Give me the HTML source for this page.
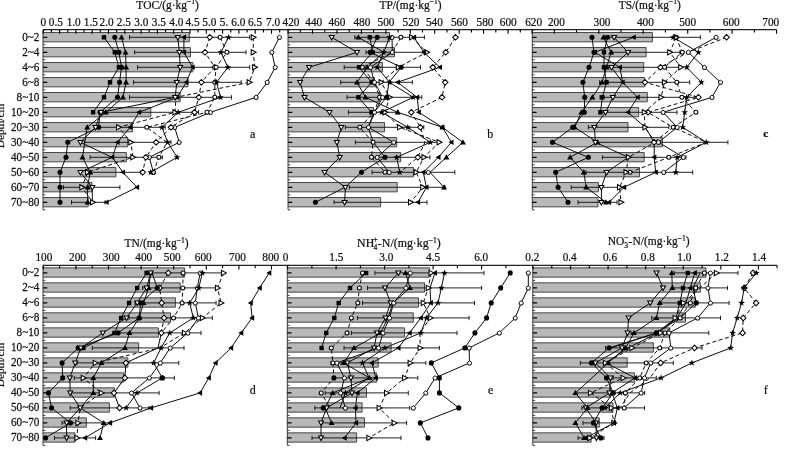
<!DOCTYPE html>
<html><head><meta charset="utf-8"><title>Figure</title>
<style>html,body{margin:0;padding:0;background:#fff}svg{display:block;will-change:transform;opacity:0.999}text{font-family:"Liberation Serif","Times New Roman",serif;fill:#111;stroke:#111;stroke-width:.22px}</style></head>
<body>
<svg width="800" height="457" viewBox="0 0 800 457">
<rect width="800" height="457" fill="#fff"/>
<path d="M43.0 32.53H189.3V41.83H43.0" fill="#b8b8b8" stroke="#383838" stroke-width="0.9"/>
<path d="M43.0 47.53H190.5V56.83H43.0" fill="#b8b8b8" stroke="#383838" stroke-width="0.9"/>
<path d="M43.0 62.53H192.9V71.83H43.0" fill="#b8b8b8" stroke="#383838" stroke-width="0.9"/>
<path d="M43.0 77.53H187.9V86.83H43.0" fill="#b8b8b8" stroke="#383838" stroke-width="0.9"/>
<path d="M43.0 92.53H180.2V101.83H43.0" fill="#b8b8b8" stroke="#383838" stroke-width="0.9"/>
<path d="M43.0 107.53H150.8V116.83H43.0" fill="#b8b8b8" stroke="#383838" stroke-width="0.9"/>
<path d="M43.0 122.53H132.6V131.83H43.0" fill="#b8b8b8" stroke="#383838" stroke-width="0.9"/>
<path d="M43.0 137.53H127.6V146.83H43.0" fill="#b8b8b8" stroke="#383838" stroke-width="0.9"/>
<path d="M43.0 152.53H126.4V161.83H43.0" fill="#b8b8b8" stroke="#383838" stroke-width="0.9"/>
<path d="M43.0 167.53H115.9V176.83H43.0" fill="#b8b8b8" stroke="#383838" stroke-width="0.9"/>
<path d="M43.0 182.53H92.0V191.83H43.0" fill="#b8b8b8" stroke="#383838" stroke-width="0.9"/>
<path d="M43.0 197.53H88.2V206.83H43.0" fill="#b8b8b8" stroke="#383838" stroke-width="0.9"/>
<path d="M129.5 37.3H249.7M129.5 35.1V39.4M249.7 35.1V39.4" stroke="#0a0a0a" stroke-width="0.9" fill="none"/>
<path d="M134.6 52.3H246.0M134.6 50.1V54.4M246.0 50.1V54.4" stroke="#0a0a0a" stroke-width="0.9" fill="none"/>
<path d="M137.6 67.3H249.7M137.6 65.1V69.5M249.7 65.1V69.5" stroke="#0a0a0a" stroke-width="0.9" fill="none"/>
<path d="M133.6 82.3H241.2M133.6 80.1V84.5M241.2 80.1V84.5" stroke="#0a0a0a" stroke-width="0.9" fill="none"/>
<path d="M129.5 97.3H231.5M129.5 95.1V99.5M231.5 95.1V99.5" stroke="#0a0a0a" stroke-width="0.9" fill="none"/>
<path d="M103.0 112.3H198.5M103.0 110.1V114.5M198.5 110.1V114.5" stroke="#0a0a0a" stroke-width="0.9" fill="none"/>
<path d="M100.0 127.3H165.2M100.0 125.1V129.4M165.2 125.1V129.4" stroke="#0a0a0a" stroke-width="0.9" fill="none"/>
<path d="M84.4 142.3H171.0M84.4 140.2V144.5M171.0 140.2V144.5" stroke="#0a0a0a" stroke-width="0.9" fill="none"/>
<path d="M90.1 157.3H162.3M90.1 155.2V159.5M162.3 155.2V159.5" stroke="#0a0a0a" stroke-width="0.9" fill="none"/>
<path d="M90.8 172.3H141.0M90.8 170.2V174.5M141.0 170.2V174.5" stroke="#0a0a0a" stroke-width="0.9" fill="none"/>
<path d="M63.5 187.3H119.9M63.5 185.2V189.5M119.9 185.2V189.5" stroke="#0a0a0a" stroke-width="0.9" fill="none"/>
<path d="M71.5 202.3H105.0M71.5 200.2V204.5M105.0 200.2V204.5" stroke="#0a0a0a" stroke-width="0.9" fill="none"/>
<polyline points="279.4,37.3 271.8,52.3 275.2,67.3 267.2,82.3 256.1,97.3 210.4,112.3 174.7,127.3 179.2,142.3 149.3,157.3 153.4,172.3" fill="none" stroke="#0c0c0c" stroke-width="1.0"/>
<polyline points="253.3,37.3 253.3,52.3 254.7,67.3 249.3,82.3 176.0,97.3 175.0,112.3 118.6,127.3 130.9,142.3 132.9,157.3 87.6,172.3 81.9,187.3 92.7,202.3" fill="none" stroke="#0c0c0c" stroke-width="1.0" stroke-dasharray="4 2.6"/>
<polyline points="209.8,37.3 205.0,52.3 214.8,67.3 201.4,82.3 198.8,97.3 194.5,112.3 171.0,127.3 156.2,142.3 145.8,157.3 142.7,172.3" fill="none" stroke="#0c0c0c" stroke-width="1.0" stroke-dasharray="4 2.6"/>
<polyline points="220.1,37.3 226.9,52.3 216.1,67.3 214.8,82.3 214.8,97.3 207.0,112.3 146.8,127.3 167.0,142.3 158.9,157.3 153.4,172.3" fill="none" stroke="#0c0c0c" stroke-width="1.0" stroke-dasharray="4 2.6"/>
<polyline points="104.0,37.3 114.8,52.3 118.9,67.3 110.0,82.3 104.0,97.3 93.1,112.3" fill="none" stroke="#0c0c0c" stroke-width="1.0"/>
<polyline points="114.8,37.3 118.9,52.3 121.5,67.3 119.5,82.3 117.5,97.3 100.0,112.3 98.6,127.3 67.8,142.3 66.0,157.3 60.0,172.3 60.0,187.3 60.0,202.3" fill="none" stroke="#0c0c0c" stroke-width="1.0"/>
<polyline points="121.5,37.3 125.5,52.3 126.1,67.3 126.1,82.3 122.9,97.3 105.8,112.3 87.2,127.3 84.8,142.3 82.5,157.3 90.1,172.3 87.6,187.3 87.6,202.3" fill="none" stroke="#0c0c0c" stroke-width="1.0"/>
<polyline points="183.9,37.3 183.9,52.3 192.5,67.3 186.3,82.3 177.2,97.3 139.0,112.3 130.1,127.3 117.5,142.3 112.3,157.3 122.9,172.3 137.0,187.3 106.6,202.3" fill="none" stroke="#0c0c0c" stroke-width="1.0"/>
<polyline points="177.8,37.3 179.4,52.3 180.2,67.3 176.8,82.3 175.2,97.3 101.0,112.3 95.6,127.3 80.4,142.3 112.0,157.3 80.4,172.3 92.3,187.3 92.3,202.3" fill="none" stroke="#0c0c0c" stroke-width="1.0"/>
<polyline points="228.5,37.3 220.9,52.3 227.9,67.3 216.5,82.3 220.5,97.3 178.3,112.3 162.0,127.3 167.7,142.3 177.1,157.3 150.6,172.3" fill="none" stroke="#0c0c0c" stroke-width="1.0"/>
<polygon points="279.4,35.1 281.6,36.7 280.8,39.3 278.0,39.3 277.2,36.7" fill="#fff" stroke="#000" stroke-width="0.95" stroke-linejoin="round"/>
<polygon points="271.8,50.1 274.0,51.7 273.2,54.3 270.4,54.3 269.6,51.7" fill="#fff" stroke="#000" stroke-width="0.95" stroke-linejoin="round"/>
<polygon points="275.2,65.2 277.4,66.7 276.6,69.3 273.8,69.3 273.0,66.7" fill="#fff" stroke="#000" stroke-width="0.95" stroke-linejoin="round"/>
<polygon points="267.2,80.2 269.4,81.7 268.6,84.3 265.8,84.3 265.0,81.7" fill="#fff" stroke="#000" stroke-width="0.95" stroke-linejoin="round"/>
<polygon points="256.1,95.2 258.3,96.7 257.5,99.3 254.7,99.3 253.9,96.7" fill="#fff" stroke="#000" stroke-width="0.95" stroke-linejoin="round"/>
<polygon points="210.4,110.2 212.6,111.7 211.8,114.3 209.0,114.3 208.2,111.7" fill="#fff" stroke="#000" stroke-width="0.95" stroke-linejoin="round"/>
<polygon points="174.7,125.2 176.9,126.7 176.1,129.3 173.3,129.3 172.5,126.7" fill="#fff" stroke="#000" stroke-width="0.95" stroke-linejoin="round"/>
<polygon points="179.2,140.2 181.4,141.7 180.6,144.3 177.8,144.3 177.0,141.7" fill="#fff" stroke="#000" stroke-width="0.95" stroke-linejoin="round"/>
<polygon points="149.3,155.2 151.5,156.7 150.7,159.3 147.9,159.3 147.1,156.7" fill="#fff" stroke="#000" stroke-width="0.95" stroke-linejoin="round"/>
<polygon points="153.4,170.2 155.6,171.7 154.8,174.3 152.0,174.3 151.2,171.7" fill="#fff" stroke="#000" stroke-width="0.95" stroke-linejoin="round"/>
<polygon points="256.1,37.3 251.2,34.7 251.2,39.9" fill="#fff" stroke="#000" stroke-width="1.05" stroke-linejoin="miter"/>
<polygon points="256.1,52.3 251.2,49.7 251.2,54.9" fill="#fff" stroke="#000" stroke-width="1.05" stroke-linejoin="miter"/>
<polygon points="257.5,67.3 252.6,64.7 252.6,69.9" fill="#fff" stroke="#000" stroke-width="1.05" stroke-linejoin="miter"/>
<polygon points="252.1,82.3 247.2,79.7 247.2,84.9" fill="#fff" stroke="#000" stroke-width="1.05" stroke-linejoin="miter"/>
<polygon points="177.8,112.3 172.9,109.7 172.9,114.9" fill="#fff" stroke="#000" stroke-width="1.05" stroke-linejoin="miter"/>
<polygon points="121.4,127.3 116.5,124.7 116.5,129.9" fill="#fff" stroke="#000" stroke-width="1.05" stroke-linejoin="miter"/>
<polygon points="133.7,142.3 128.8,139.7 128.8,144.9" fill="#fff" stroke="#000" stroke-width="1.05" stroke-linejoin="miter"/>
<polygon points="135.7,157.3 130.8,154.7 130.8,159.9" fill="#fff" stroke="#000" stroke-width="1.05" stroke-linejoin="miter"/>
<polygon points="90.4,172.3 85.5,169.7 85.5,174.9" fill="#fff" stroke="#000" stroke-width="1.05" stroke-linejoin="miter"/>
<polygon points="84.7,187.3 79.8,184.7 79.8,189.9" fill="#fff" stroke="#000" stroke-width="1.05" stroke-linejoin="miter"/>
<polygon points="95.5,202.3 90.6,199.7 90.6,204.9" fill="#fff" stroke="#000" stroke-width="1.05" stroke-linejoin="miter"/>
<polygon points="209.8,34.5 212.6,37.3 209.8,40.1 207.0,37.3" fill="#fff" stroke="#000" stroke-width="1.05" stroke-linejoin="miter"/>
<polygon points="205.0,49.5 207.8,52.3 205.0,55.1 202.2,52.3" fill="#fff" stroke="#000" stroke-width="1.05" stroke-linejoin="miter"/>
<polygon points="214.8,64.5 217.6,67.3 214.8,70.1 212.0,67.3" fill="#fff" stroke="#000" stroke-width="1.05" stroke-linejoin="miter"/>
<polygon points="201.4,79.5 204.2,82.3 201.4,85.1 198.6,82.3" fill="#fff" stroke="#000" stroke-width="1.05" stroke-linejoin="miter"/>
<polygon points="198.8,94.5 201.6,97.3 198.8,100.1 196.0,97.3" fill="#fff" stroke="#000" stroke-width="1.05" stroke-linejoin="miter"/>
<polygon points="194.5,109.5 197.3,112.3 194.5,115.1 191.7,112.3" fill="#fff" stroke="#000" stroke-width="1.05" stroke-linejoin="miter"/>
<polygon points="171.0,124.5 173.8,127.3 171.0,130.1 168.2,127.3" fill="#fff" stroke="#000" stroke-width="1.05" stroke-linejoin="miter"/>
<polygon points="156.2,139.5 159.0,142.3 156.2,145.1 153.4,142.3" fill="#fff" stroke="#000" stroke-width="1.05" stroke-linejoin="miter"/>
<polygon points="145.8,154.5 148.6,157.3 145.8,160.1 143.0,157.3" fill="#fff" stroke="#000" stroke-width="1.05" stroke-linejoin="miter"/>
<polygon points="142.7,169.5 145.5,172.3 142.7,175.1 139.9,172.3" fill="#fff" stroke="#000" stroke-width="1.05" stroke-linejoin="miter"/>
<circle cx="220.1" cy="37.3" r="2.0" fill="#fff" stroke="#000" stroke-width="1.05"/>
<circle cx="226.9" cy="52.3" r="2.0" fill="#fff" stroke="#000" stroke-width="1.05"/>
<circle cx="216.1" cy="67.3" r="2.0" fill="#fff" stroke="#000" stroke-width="1.05"/>
<circle cx="214.8" cy="82.3" r="2.0" fill="#fff" stroke="#000" stroke-width="1.05"/>
<circle cx="214.8" cy="97.3" r="2.0" fill="#fff" stroke="#000" stroke-width="1.05"/>
<circle cx="207.0" cy="112.3" r="2.0" fill="#fff" stroke="#000" stroke-width="1.05"/>
<circle cx="146.8" cy="127.3" r="2.0" fill="#fff" stroke="#000" stroke-width="1.05"/>
<circle cx="158.9" cy="157.3" r="2.0" fill="#fff" stroke="#000" stroke-width="1.05"/>
<circle cx="153.4" cy="172.3" r="2.0" fill="#fff" stroke="#000" stroke-width="1.05"/>
<rect x="101.8" y="35.1" width="4.4" height="4.4" fill="#000"/>
<rect x="112.6" y="50.1" width="4.4" height="4.4" fill="#000"/>
<rect x="116.7" y="65.1" width="4.4" height="4.4" fill="#000"/>
<rect x="107.8" y="80.1" width="4.4" height="4.4" fill="#000"/>
<rect x="101.8" y="95.1" width="4.4" height="4.4" fill="#000"/>
<rect x="90.9" y="110.1" width="4.4" height="4.4" fill="#000"/>
<circle cx="114.8" cy="37.3" r="2.55" fill="#000"/>
<circle cx="118.9" cy="52.3" r="2.55" fill="#000"/>
<circle cx="121.5" cy="67.3" r="2.55" fill="#000"/>
<circle cx="119.5" cy="82.3" r="2.55" fill="#000"/>
<circle cx="117.5" cy="97.3" r="2.55" fill="#000"/>
<circle cx="100.0" cy="112.3" r="2.55" fill="#000"/>
<circle cx="98.6" cy="127.3" r="2.55" fill="#000"/>
<circle cx="67.8" cy="142.3" r="2.55" fill="#000"/>
<circle cx="66.0" cy="157.3" r="2.55" fill="#000"/>
<circle cx="60.0" cy="172.3" r="2.55" fill="#000"/>
<circle cx="60.0" cy="187.3" r="2.55" fill="#000"/>
<circle cx="60.0" cy="202.3" r="2.55" fill="#000"/>
<polygon points="121.5,34.3 118.5,39.5 124.5,39.5" fill="#000"/>
<polygon points="125.5,49.3 122.5,54.5 128.5,54.5" fill="#000"/>
<polygon points="126.1,64.3 123.1,69.5 129.1,69.5" fill="#000"/>
<polygon points="126.1,79.3 123.1,84.5 129.1,84.5" fill="#000"/>
<polygon points="122.9,94.3 119.9,99.5 125.9,99.5" fill="#000"/>
<polygon points="105.8,109.3 102.8,114.5 108.8,114.5" fill="#000"/>
<polygon points="87.2,124.3 84.2,129.5 90.2,129.5" fill="#000"/>
<polygon points="82.5,154.3 79.5,159.5 85.5,159.5" fill="#000"/>
<polygon points="90.1,169.3 87.1,174.5 93.1,174.5" fill="#000"/>
<polygon points="87.6,184.3 84.6,189.5 90.6,189.5" fill="#000"/>
<polygon points="87.6,199.3 84.6,204.5 90.6,204.5" fill="#000"/>
<polygon points="181.0,37.3 186.0,34.5 186.0,40.1" fill="#000"/>
<polygon points="181.0,52.3 186.0,49.5 186.0,55.1" fill="#000"/>
<polygon points="189.6,67.3 194.6,64.5 194.6,70.1" fill="#000"/>
<polygon points="183.4,82.3 188.4,79.5 188.4,85.1" fill="#000"/>
<polygon points="174.3,97.3 179.3,94.5 179.3,100.1" fill="#000"/>
<polygon points="136.1,112.3 141.1,109.5 141.1,115.1" fill="#000"/>
<polygon points="127.2,127.3 132.2,124.5 132.2,130.1" fill="#000"/>
<polygon points="114.6,142.3 119.6,139.5 119.6,145.1" fill="#000"/>
<polygon points="109.4,157.3 114.4,154.5 114.4,160.1" fill="#000"/>
<polygon points="120.0,172.3 125.0,169.5 125.0,175.1" fill="#000"/>
<polygon points="134.1,187.3 139.1,184.5 139.1,190.1" fill="#000"/>
<polygon points="103.7,202.3 108.7,199.5 108.7,205.1" fill="#000"/>
<polygon points="177.8,40.0 175.3,35.4 180.3,35.4" fill="#fff" stroke="#000" stroke-width="1.05" stroke-linejoin="miter"/>
<polygon points="179.4,55.0 176.9,50.4 181.9,50.4" fill="#fff" stroke="#000" stroke-width="1.05" stroke-linejoin="miter"/>
<polygon points="180.2,70.0 177.7,65.4 182.7,65.4" fill="#fff" stroke="#000" stroke-width="1.05" stroke-linejoin="miter"/>
<polygon points="176.8,85.0 174.3,80.4 179.3,80.4" fill="#fff" stroke="#000" stroke-width="1.05" stroke-linejoin="miter"/>
<polygon points="175.2,100.0 172.7,95.4 177.7,95.4" fill="#fff" stroke="#000" stroke-width="1.05" stroke-linejoin="miter"/>
<polygon points="101.0,115.0 98.5,110.4 103.5,110.4" fill="#fff" stroke="#000" stroke-width="1.05" stroke-linejoin="miter"/>
<polygon points="95.6,130.0 93.1,125.4 98.1,125.4" fill="#fff" stroke="#000" stroke-width="1.05" stroke-linejoin="miter"/>
<polygon points="80.4,145.0 77.9,140.4 82.9,140.4" fill="#fff" stroke="#000" stroke-width="1.05" stroke-linejoin="miter"/>
<polygon points="80.4,175.0 77.9,170.4 82.9,170.4" fill="#fff" stroke="#000" stroke-width="1.05" stroke-linejoin="miter"/>
<polygon points="92.3,190.0 89.8,185.4 94.8,185.4" fill="#fff" stroke="#000" stroke-width="1.05" stroke-linejoin="miter"/>
<polygon points="228.5,33.8 229.3,36.2 231.9,36.2 229.8,37.7 230.6,40.2 228.5,38.7 226.4,40.2 227.2,37.7 225.1,36.2 227.7,36.2" fill="#000"/>
<polygon points="220.9,48.8 221.7,51.2 224.3,51.2 222.2,52.7 223.0,55.2 220.9,53.7 218.8,55.2 219.6,52.7 217.5,51.2 220.1,51.2" fill="#000"/>
<polygon points="227.9,63.8 228.7,66.2 231.3,66.2 229.2,67.7 230.0,70.2 227.9,68.7 225.8,70.2 226.6,67.7 224.5,66.2 227.1,66.2" fill="#000"/>
<polygon points="216.5,78.8 217.3,81.2 219.9,81.2 217.8,82.7 218.6,85.2 216.5,83.7 214.4,85.2 215.2,82.7 213.1,81.2 215.7,81.2" fill="#000"/>
<polygon points="220.5,93.8 221.3,96.2 223.9,96.2 221.8,97.7 222.6,100.2 220.5,98.7 218.4,100.2 219.2,97.7 217.1,96.2 219.7,96.2" fill="#000"/>
<polygon points="178.3,108.8 179.1,111.2 181.7,111.2 179.6,112.7 180.4,115.2 178.3,113.7 176.2,115.2 177.0,112.7 174.9,111.2 177.5,111.2" fill="#000"/>
<polygon points="162.0,123.8 162.8,126.2 165.4,126.2 163.3,127.7 164.1,130.2 162.0,128.7 159.9,130.2 160.7,127.7 158.6,126.2 161.2,126.2" fill="#000"/>
<polygon points="167.7,138.8 168.5,141.2 171.1,141.2 169.0,142.7 169.8,145.2 167.7,143.7 165.6,145.2 166.4,142.7 164.3,141.2 166.9,141.2" fill="#000"/>
<polygon points="177.1,153.8 177.9,156.2 180.5,156.2 178.4,157.7 179.2,160.2 177.1,158.7 175.0,160.2 175.8,157.7 173.7,156.2 176.3,156.2" fill="#000"/>
<polygon points="150.6,168.8 151.4,171.2 154.0,171.2 151.9,172.7 152.7,175.2 150.6,173.7 148.5,175.2 149.3,172.7 147.2,171.2 149.8,171.2" fill="#000"/>
<path d="M43.0 29.7V209.5M43.0 29.8h2.3M43.0 44.8h2.3M43.0 59.8h2.3M43.0 74.8h2.3M43.0 89.8h2.3M43.0 104.8h2.3M43.0 119.8h2.3M43.0 134.8h2.3M43.0 149.8h2.3M43.0 164.8h2.3M43.0 179.8h2.3M43.0 194.8h2.3M43.0 209.8h2.3" stroke="#2e2e2e" stroke-width="0.95" fill="none"/>
<path d="M43.0 37.3h4.3M43.0 52.3h4.3M43.0 67.3h4.3M43.0 82.3h4.3M43.0 97.3h4.3M43.0 112.3h4.3M43.0 127.3h4.3M43.0 142.3h4.3M43.0 157.3h4.3M43.0 172.3h4.3M43.0 187.3h4.3M43.0 202.3h4.3" stroke="#000" stroke-width="1.35" fill="none"/>
<path d="M288.0 32.53H389.6V41.83H288.0" fill="#b8b8b8" stroke="#383838" stroke-width="0.9"/>
<path d="M288.0 47.53H394.5V56.83H288.0" fill="#b8b8b8" stroke="#383838" stroke-width="0.9"/>
<path d="M288.0 62.53H382.4V71.83H288.0" fill="#b8b8b8" stroke="#383838" stroke-width="0.9"/>
<path d="M288.0 77.53H374.5V86.83H288.0" fill="#b8b8b8" stroke="#383838" stroke-width="0.9"/>
<path d="M288.0 92.53H379.6V101.83H288.0" fill="#b8b8b8" stroke="#383838" stroke-width="0.9"/>
<path d="M288.0 107.53H373.5V116.83H288.0" fill="#b8b8b8" stroke="#383838" stroke-width="0.9"/>
<path d="M288.0 122.53H384.6V131.83H288.0" fill="#b8b8b8" stroke="#383838" stroke-width="0.9"/>
<path d="M288.0 137.53H396.7V146.83H288.0" fill="#b8b8b8" stroke="#383838" stroke-width="0.9"/>
<path d="M288.0 152.53H400.7V161.83H288.0" fill="#b8b8b8" stroke="#383838" stroke-width="0.9"/>
<path d="M288.0 167.53H413.4V176.83H288.0" fill="#b8b8b8" stroke="#383838" stroke-width="0.9"/>
<path d="M288.0 182.53H397.2V191.83H288.0" fill="#b8b8b8" stroke="#383838" stroke-width="0.9"/>
<path d="M288.0 197.53H380.6V206.83H288.0" fill="#b8b8b8" stroke="#383838" stroke-width="0.9"/>
<path d="M354.8 37.3H424.4M354.8 35.1V39.4M424.4 35.1V39.4" stroke="#0a0a0a" stroke-width="0.9" fill="none"/>
<path d="M366.0 52.3H423.2M366.0 50.1V54.4M423.2 50.1V54.4" stroke="#0a0a0a" stroke-width="0.9" fill="none"/>
<path d="M344.2 67.3H420.5M344.2 65.1V69.5M420.5 65.1V69.5" stroke="#0a0a0a" stroke-width="0.9" fill="none"/>
<path d="M340.7 82.3H412.4M340.7 80.1V84.5M412.4 80.1V84.5" stroke="#0a0a0a" stroke-width="0.9" fill="none"/>
<path d="M347.0 97.3H421.8M347.0 95.1V99.5M421.8 95.1V99.5" stroke="#0a0a0a" stroke-width="0.9" fill="none"/>
<path d="M348.4 112.3H398.6M348.4 110.1V114.5M398.6 110.1V114.5" stroke="#0a0a0a" stroke-width="0.9" fill="none"/>
<path d="M345.4 127.3H423.8M345.4 125.1V129.4M423.8 125.1V129.4" stroke="#0a0a0a" stroke-width="0.9" fill="none"/>
<path d="M355.4 142.3H438.0M355.4 140.2V144.5M438.0 140.2V144.5" stroke="#0a0a0a" stroke-width="0.9" fill="none"/>
<path d="M371.5 157.3H429.9M371.5 155.2V159.5M429.9 155.2V159.5" stroke="#0a0a0a" stroke-width="0.9" fill="none"/>
<path d="M372.1 172.3H454.8M372.1 170.2V174.5M454.8 170.2V174.5" stroke="#0a0a0a" stroke-width="0.9" fill="none"/>
<path d="M349.4 187.3H445.0M349.4 185.2V189.5M445.0 185.2V189.5" stroke="#0a0a0a" stroke-width="0.9" fill="none"/>
<path d="M334.0 202.3H427.0M334.0 200.2V204.5M427.0 200.2V204.5" stroke="#0a0a0a" stroke-width="0.9" fill="none"/>
<polyline points="331.7,37.3 357.0,52.3 309.1,67.3 300.1,82.3 304.5,97.3 329.5,112.3 341.3,127.3 336.9,142.3 339.7,157.3 324.6,172.3 345.4,187.3 344.6,202.3" fill="none" stroke="#0c0c0c" stroke-width="1.0"/>
<polyline points="455.5,37.3 445.7,52.3 432.8,67.3 445.2,82.3 442.0,97.3 411.3,112.3 420.4,127.3 425.0,142.3 417.8,157.3 400.0,172.3" fill="none" stroke="#0c0c0c" stroke-width="1.0" stroke-dasharray="4 2.6"/>
<polyline points="411.7,37.3 426.8,52.3 398.4,67.3 381.2,82.3 389.6,97.3 385.0,112.3 399.6,127.3 439.2,142.3 424.0,157.3 416.2,172.3 422.8,187.3 410.6,202.3" fill="none" stroke="#0c0c0c" stroke-width="1.0" stroke-dasharray="4 2.6"/>
<polyline points="400.9,37.3 392.3,52.3 362.2,67.3 374.5,82.3 379.6,97.3 374.0,112.3 359.8,127.3 373.1,142.3 371.5,157.3 385.0,172.3" fill="none" stroke="#0c0c0c" stroke-width="1.0" stroke-dasharray="4 2.6"/>
<polyline points="369.8,37.3 372.7,52.3 359.0,67.3 371.7,82.3 358.4,97.3 371.5,112.3" fill="none" stroke="#0c0c0c" stroke-width="1.0"/>
<polyline points="377.2,37.3 370.2,52.3 401.2,67.3 389.0,82.3 386.6,97.3 374.0,112.3 368.2,127.3 373.3,142.3 385.0,157.3 361.5,172.3 345.0,187.3 315.4,202.3" fill="none" stroke="#0c0c0c" stroke-width="1.0"/>
<polyline points="358.4,37.3 383.8,52.3 367.3,67.3 357.0,82.3 365.5,97.3 397.7,112.3 442.4,127.3 462.9,142.3 446.4,157.3 430.0,172.3 444.0,187.3" fill="none" stroke="#0c0c0c" stroke-width="1.0"/>
<polyline points="414.0,37.3 423.8,52.3 439.9,67.3 397.7,82.3 417.2,97.3 418.8,112.3 442.4,127.3 451.4,142.3 438.4,157.3 423.3,172.3 426.4,187.3 418.0,202.3" fill="none" stroke="#0c0c0c" stroke-width="1.0"/>
<polyline points="392.0,37.3 392.3,52.3 370.5,67.3 374.5,82.3 382.6,97.3 374.5,112.3 368.5,127.3 393.7,142.3 377.2,157.3 389.2,172.3" fill="none" stroke="#0c0c0c" stroke-width="1.0"/>
<polyline points="389.5,37.3 383.8,52.3 377.2,67.3 389.5,82.3 413.2,97.3 381.6,112.3 407.8,127.3 430.3,142.3 396.7,157.3 399.7,172.3" fill="none" stroke="#0c0c0c" stroke-width="1.0"/>
<polygon points="331.7,40.0 329.2,35.4 334.2,35.4" fill="#fff" stroke="#000" stroke-width="1.05" stroke-linejoin="miter"/>
<polygon points="357.0,55.0 354.5,50.4 359.5,50.4" fill="#fff" stroke="#000" stroke-width="1.05" stroke-linejoin="miter"/>
<polygon points="309.1,70.0 306.6,65.4 311.6,65.4" fill="#fff" stroke="#000" stroke-width="1.05" stroke-linejoin="miter"/>
<polygon points="300.1,85.0 297.6,80.4 302.6,80.4" fill="#fff" stroke="#000" stroke-width="1.05" stroke-linejoin="miter"/>
<polygon points="304.5,100.0 302.0,95.4 307.0,95.4" fill="#fff" stroke="#000" stroke-width="1.05" stroke-linejoin="miter"/>
<polygon points="329.5,115.0 327.0,110.4 332.0,110.4" fill="#fff" stroke="#000" stroke-width="1.05" stroke-linejoin="miter"/>
<polygon points="341.3,130.0 338.8,125.4 343.8,125.4" fill="#fff" stroke="#000" stroke-width="1.05" stroke-linejoin="miter"/>
<polygon points="336.9,145.0 334.4,140.4 339.4,140.4" fill="#fff" stroke="#000" stroke-width="1.05" stroke-linejoin="miter"/>
<polygon points="339.7,160.0 337.2,155.4 342.2,155.4" fill="#fff" stroke="#000" stroke-width="1.05" stroke-linejoin="miter"/>
<polygon points="324.6,175.0 322.1,170.4 327.1,170.4" fill="#fff" stroke="#000" stroke-width="1.05" stroke-linejoin="miter"/>
<polygon points="345.4,190.0 342.9,185.4 347.9,185.4" fill="#fff" stroke="#000" stroke-width="1.05" stroke-linejoin="miter"/>
<polygon points="344.6,205.0 342.1,200.4 347.1,200.4" fill="#fff" stroke="#000" stroke-width="1.05" stroke-linejoin="miter"/>
<polygon points="455.5,34.5 458.3,37.3 455.5,40.1 452.7,37.3" fill="#fff" stroke="#000" stroke-width="1.05" stroke-linejoin="miter"/>
<polygon points="445.7,49.5 448.5,52.3 445.7,55.1 442.9,52.3" fill="#fff" stroke="#000" stroke-width="1.05" stroke-linejoin="miter"/>
<polygon points="432.8,64.5 435.6,67.3 432.8,70.1 430.0,67.3" fill="#fff" stroke="#000" stroke-width="1.05" stroke-linejoin="miter"/>
<polygon points="445.2,79.5 448.0,82.3 445.2,85.1 442.4,82.3" fill="#fff" stroke="#000" stroke-width="1.05" stroke-linejoin="miter"/>
<polygon points="442.0,94.5 444.8,97.3 442.0,100.1 439.2,97.3" fill="#fff" stroke="#000" stroke-width="1.05" stroke-linejoin="miter"/>
<polygon points="411.3,109.5 414.1,112.3 411.3,115.1 408.5,112.3" fill="#fff" stroke="#000" stroke-width="1.05" stroke-linejoin="miter"/>
<polygon points="420.4,124.5 423.2,127.3 420.4,130.1 417.6,127.3" fill="#fff" stroke="#000" stroke-width="1.05" stroke-linejoin="miter"/>
<polygon points="417.8,154.5 420.6,157.3 417.8,160.1 415.0,157.3" fill="#fff" stroke="#000" stroke-width="1.05" stroke-linejoin="miter"/>
<polygon points="414.5,37.3 409.6,34.7 409.6,39.9" fill="#fff" stroke="#000" stroke-width="1.05" stroke-linejoin="miter"/>
<polygon points="429.6,52.3 424.7,49.7 424.7,54.9" fill="#fff" stroke="#000" stroke-width="1.05" stroke-linejoin="miter"/>
<polygon points="401.2,67.3 396.3,64.7 396.3,69.9" fill="#fff" stroke="#000" stroke-width="1.05" stroke-linejoin="miter"/>
<polygon points="384.0,82.3 379.1,79.7 379.1,84.9" fill="#fff" stroke="#000" stroke-width="1.05" stroke-linejoin="miter"/>
<polygon points="392.4,97.3 387.5,94.7 387.5,99.9" fill="#fff" stroke="#000" stroke-width="1.05" stroke-linejoin="miter"/>
<polygon points="387.8,112.3 382.9,109.7 382.9,114.9" fill="#fff" stroke="#000" stroke-width="1.05" stroke-linejoin="miter"/>
<polygon points="402.4,127.3 397.5,124.7 397.5,129.9" fill="#fff" stroke="#000" stroke-width="1.05" stroke-linejoin="miter"/>
<polygon points="442.0,142.3 437.1,139.7 437.1,144.9" fill="#fff" stroke="#000" stroke-width="1.05" stroke-linejoin="miter"/>
<polygon points="426.8,157.3 421.9,154.7 421.9,159.9" fill="#fff" stroke="#000" stroke-width="1.05" stroke-linejoin="miter"/>
<polygon points="419.0,172.3 414.1,169.7 414.1,174.9" fill="#fff" stroke="#000" stroke-width="1.05" stroke-linejoin="miter"/>
<polygon points="425.6,187.3 420.7,184.7 420.7,189.9" fill="#fff" stroke="#000" stroke-width="1.05" stroke-linejoin="miter"/>
<polygon points="413.4,202.3 408.5,199.7 408.5,204.9" fill="#fff" stroke="#000" stroke-width="1.05" stroke-linejoin="miter"/>
<circle cx="400.9" cy="37.3" r="2.0" fill="#fff" stroke="#000" stroke-width="1.05"/>
<circle cx="362.2" cy="67.3" r="2.0" fill="#fff" stroke="#000" stroke-width="1.05"/>
<circle cx="379.6" cy="97.3" r="2.0" fill="#fff" stroke="#000" stroke-width="1.05"/>
<circle cx="359.8" cy="127.3" r="2.0" fill="#fff" stroke="#000" stroke-width="1.05"/>
<circle cx="373.1" cy="142.3" r="2.0" fill="#fff" stroke="#000" stroke-width="1.05"/>
<circle cx="371.5" cy="157.3" r="2.0" fill="#fff" stroke="#000" stroke-width="1.05"/>
<circle cx="385.0" cy="172.3" r="2.0" fill="#fff" stroke="#000" stroke-width="1.05"/>
<rect x="367.6" y="35.1" width="4.4" height="4.4" fill="#000"/>
<rect x="370.5" y="50.1" width="4.4" height="4.4" fill="#000"/>
<rect x="356.8" y="65.1" width="4.4" height="4.4" fill="#000"/>
<rect x="369.5" y="80.1" width="4.4" height="4.4" fill="#000"/>
<rect x="356.2" y="95.1" width="4.4" height="4.4" fill="#000"/>
<rect x="369.3" y="110.1" width="4.4" height="4.4" fill="#000"/>
<circle cx="377.2" cy="37.3" r="2.55" fill="#000"/>
<circle cx="370.2" cy="52.3" r="2.55" fill="#000"/>
<circle cx="401.2" cy="67.3" r="2.55" fill="#000"/>
<circle cx="386.6" cy="97.3" r="2.55" fill="#000"/>
<circle cx="385.0" cy="157.3" r="2.55" fill="#000"/>
<circle cx="361.5" cy="172.3" r="2.55" fill="#000"/>
<circle cx="315.4" cy="202.3" r="2.55" fill="#000"/>
<polygon points="358.4,34.3 355.4,39.5 361.4,39.5" fill="#000"/>
<polygon points="367.3,64.3 364.3,69.5 370.3,69.5" fill="#000"/>
<polygon points="357.0,79.3 354.0,84.5 360.0,84.5" fill="#000"/>
<polygon points="365.5,94.3 362.5,99.5 368.5,99.5" fill="#000"/>
<polygon points="397.7,109.3 394.7,114.5 400.7,114.5" fill="#000"/>
<polygon points="442.4,124.3 439.4,129.5 445.4,129.5" fill="#000"/>
<polygon points="462.9,139.3 459.9,144.5 465.9,144.5" fill="#000"/>
<polygon points="446.4,154.3 443.4,159.5 449.4,159.5" fill="#000"/>
<polygon points="444.0,184.3 441.0,189.5 447.0,189.5" fill="#000"/>
<polygon points="411.1,37.3 416.1,34.5 416.1,40.1" fill="#000"/>
<polygon points="420.9,52.3 425.9,49.5 425.9,55.1" fill="#000"/>
<polygon points="437.0,67.3 442.0,64.5 442.0,70.1" fill="#000"/>
<polygon points="394.8,82.3 399.8,79.5 399.8,85.1" fill="#000"/>
<polygon points="414.3,97.3 419.3,94.5 419.3,100.1" fill="#000"/>
<polygon points="415.9,112.3 420.9,109.5 420.9,115.1" fill="#000"/>
<polygon points="439.5,127.3 444.5,124.5 444.5,130.1" fill="#000"/>
<polygon points="448.5,142.3 453.5,139.5 453.5,145.1" fill="#000"/>
<polygon points="435.5,157.3 440.5,154.5 440.5,160.1" fill="#000"/>
<polygon points="420.4,172.3 425.4,169.5 425.4,175.1" fill="#000"/>
<polygon points="423.5,187.3 428.5,184.5 428.5,190.1" fill="#000"/>
<polygon points="415.1,202.3 420.1,199.5 420.1,205.1" fill="#000"/>
<polygon points="392.0,35.1 394.2,36.7 393.4,39.3 390.6,39.3 389.8,36.7" fill="#fff" stroke="#000" stroke-width="0.95" stroke-linejoin="round"/>
<polygon points="392.3,50.1 394.5,51.7 393.7,54.3 390.9,54.3 390.1,51.7" fill="#fff" stroke="#000" stroke-width="0.95" stroke-linejoin="round"/>
<polygon points="370.5,65.2 372.7,66.7 371.9,69.3 369.1,69.3 368.3,66.7" fill="#fff" stroke="#000" stroke-width="0.95" stroke-linejoin="round"/>
<polygon points="374.5,80.2 376.7,81.7 375.9,84.3 373.1,84.3 372.3,81.7" fill="#fff" stroke="#000" stroke-width="0.95" stroke-linejoin="round"/>
<polygon points="382.6,95.2 384.8,96.7 384.0,99.3 381.2,99.3 380.4,96.7" fill="#fff" stroke="#000" stroke-width="0.95" stroke-linejoin="round"/>
<polygon points="374.5,110.2 376.7,111.7 375.9,114.3 373.1,114.3 372.3,111.7" fill="#fff" stroke="#000" stroke-width="0.95" stroke-linejoin="round"/>
<polygon points="368.5,125.2 370.7,126.7 369.9,129.3 367.1,129.3 366.3,126.7" fill="#fff" stroke="#000" stroke-width="0.95" stroke-linejoin="round"/>
<polygon points="393.7,140.2 395.9,141.7 395.1,144.3 392.3,144.3 391.5,141.7" fill="#fff" stroke="#000" stroke-width="0.95" stroke-linejoin="round"/>
<polygon points="377.2,155.2 379.4,156.7 378.6,159.3 375.8,159.3 375.0,156.7" fill="#fff" stroke="#000" stroke-width="0.95" stroke-linejoin="round"/>
<polygon points="389.2,170.2 391.4,171.7 390.6,174.3 387.8,174.3 387.0,171.7" fill="#fff" stroke="#000" stroke-width="0.95" stroke-linejoin="round"/>
<polygon points="389.5,33.8 390.3,36.2 392.9,36.2 390.8,37.7 391.6,40.2 389.5,38.7 387.4,40.2 388.2,37.7 386.1,36.2 388.7,36.2" fill="#000"/>
<polygon points="383.8,48.8 384.6,51.2 387.2,51.2 385.1,52.7 385.9,55.2 383.8,53.7 381.7,55.2 382.5,52.7 380.4,51.2 383.0,51.2" fill="#000"/>
<polygon points="377.2,63.8 378.0,66.2 380.6,66.2 378.5,67.7 379.3,70.2 377.2,68.7 375.1,70.2 375.9,67.7 373.8,66.2 376.4,66.2" fill="#000"/>
<polygon points="389.5,78.8 390.3,81.2 392.9,81.2 390.8,82.7 391.6,85.2 389.5,83.7 387.4,85.2 388.2,82.7 386.1,81.2 388.7,81.2" fill="#000"/>
<polygon points="413.2,93.8 414.0,96.2 416.6,96.2 414.5,97.7 415.3,100.2 413.2,98.7 411.1,100.2 411.9,97.7 409.8,96.2 412.4,96.2" fill="#000"/>
<polygon points="381.6,108.8 382.4,111.2 385.0,111.2 382.9,112.7 383.7,115.2 381.6,113.7 379.5,115.2 380.3,112.7 378.2,111.2 380.8,111.2" fill="#000"/>
<polygon points="407.8,123.8 408.6,126.2 411.2,126.2 409.1,127.7 409.9,130.2 407.8,128.7 405.7,130.2 406.5,127.7 404.4,126.2 407.0,126.2" fill="#000"/>
<polygon points="430.3,138.8 431.1,141.2 433.7,141.2 431.6,142.7 432.4,145.2 430.3,143.7 428.2,145.2 429.0,142.7 426.9,141.2 429.5,141.2" fill="#000"/>
<polygon points="396.7,153.8 397.5,156.2 400.1,156.2 398.0,157.7 398.8,160.2 396.7,158.7 394.6,160.2 395.4,157.7 393.3,156.2 395.9,156.2" fill="#000"/>
<polygon points="399.7,168.8 400.5,171.2 403.1,171.2 401.0,172.7 401.8,175.2 399.7,173.7 397.6,175.2 398.4,172.7 396.3,171.2 398.9,171.2" fill="#000"/>
<path d="M288.0 29.7V209.5M288.0 29.8h2.3M288.0 44.8h2.3M288.0 59.8h2.3M288.0 74.8h2.3M288.0 89.8h2.3M288.0 104.8h2.3M288.0 119.8h2.3M288.0 134.8h2.3M288.0 149.8h2.3M288.0 164.8h2.3M288.0 179.8h2.3M288.0 194.8h2.3M288.0 209.8h2.3" stroke="#2e2e2e" stroke-width="0.95" fill="none"/>
<path d="M288.0 37.3h4.3M288.0 52.3h4.3M288.0 67.3h4.3M288.0 82.3h4.3M288.0 97.3h4.3M288.0 112.3h4.3M288.0 127.3h4.3M288.0 142.3h4.3M288.0 157.3h4.3M288.0 172.3h4.3M288.0 187.3h4.3M288.0 202.3h4.3" stroke="#000" stroke-width="1.35" fill="none"/>
<polygon points="428.3,170.2 430.5,171.7 429.7,174.3 426.9,174.3 426.1,171.7" fill="#fff" stroke="#000" stroke-width="0.95" stroke-linejoin="round"/>
<path d="M532.3 32.53H652.4V41.83H532.3" fill="#b8b8b8" stroke="#383838" stroke-width="0.9"/>
<path d="M532.3 47.53H646.1V56.83H532.3" fill="#b8b8b8" stroke="#383838" stroke-width="0.9"/>
<path d="M532.3 62.53H643.7V71.83H532.3" fill="#b8b8b8" stroke="#383838" stroke-width="0.9"/>
<path d="M532.3 77.53H644.7V86.83H532.3" fill="#b8b8b8" stroke="#383838" stroke-width="0.9"/>
<path d="M532.3 92.53H647.3V101.83H532.3" fill="#b8b8b8" stroke="#383838" stroke-width="0.9"/>
<path d="M532.3 107.53H638.7V116.83H532.3" fill="#b8b8b8" stroke="#383838" stroke-width="0.9"/>
<path d="M532.3 122.53H628.0V131.83H532.3" fill="#b8b8b8" stroke="#383838" stroke-width="0.9"/>
<path d="M532.3 137.53H662.4V146.83H532.3" fill="#b8b8b8" stroke="#383838" stroke-width="0.9"/>
<path d="M532.3 152.53H644.2V161.83H532.3" fill="#b8b8b8" stroke="#383838" stroke-width="0.9"/>
<path d="M532.3 167.53H639.5V176.83H532.3" fill="#b8b8b8" stroke="#383838" stroke-width="0.9"/>
<path d="M532.3 182.53H598.4V191.83H532.3" fill="#b8b8b8" stroke="#383838" stroke-width="0.9"/>
<path d="M532.3 197.53H598.0V206.83H532.3" fill="#b8b8b8" stroke="#383838" stroke-width="0.9"/>
<path d="M604.4 37.3H700.4M604.4 35.1V39.4M700.4 35.1V39.4" stroke="#0a0a0a" stroke-width="0.9" fill="none"/>
<path d="M612.0 52.3H680.0M612.0 50.1V54.4M680.0 50.1V54.4" stroke="#0a0a0a" stroke-width="0.9" fill="none"/>
<path d="M608.0 67.3H679.0M608.0 65.1V69.5M679.0 65.1V69.5" stroke="#0a0a0a" stroke-width="0.9" fill="none"/>
<path d="M599.7 82.3H689.7M599.7 80.1V84.5M689.7 80.1V84.5" stroke="#0a0a0a" stroke-width="0.9" fill="none"/>
<path d="M600.0 97.3H694.3M600.0 95.1V99.5M694.3 95.1V99.5" stroke="#0a0a0a" stroke-width="0.9" fill="none"/>
<path d="M600.0 112.3H677.0M600.0 110.1V114.5M677.0 110.1V114.5" stroke="#0a0a0a" stroke-width="0.9" fill="none"/>
<path d="M588.4 127.3H668.8M588.4 125.1V129.4M668.8 125.1V129.4" stroke="#0a0a0a" stroke-width="0.9" fill="none"/>
<path d="M596.0 142.3H727.9M596.0 140.2V144.5M727.9 140.2V144.5" stroke="#0a0a0a" stroke-width="0.9" fill="none"/>
<path d="M602.4 157.3H686.0M602.4 155.2V159.5M686.0 155.2V159.5" stroke="#0a0a0a" stroke-width="0.9" fill="none"/>
<path d="M586.0 172.3H692.7M586.0 170.2V174.5M692.7 170.2V174.5" stroke="#0a0a0a" stroke-width="0.9" fill="none"/>
<path d="M571.2 187.3H625.6M571.2 185.2V189.5M625.6 185.2V189.5" stroke="#0a0a0a" stroke-width="0.9" fill="none"/>
<path d="M578.0 202.3H617.0M578.0 200.2V204.5M617.0 200.2V204.5" stroke="#0a0a0a" stroke-width="0.9" fill="none"/>
<polyline points="726.5,37.3 688.0,52.3 660.5,67.3 645.0,82.3 698.4,97.3 648.0,112.3 673.0,127.3 654.1,142.3" fill="none" stroke="#0c0c0c" stroke-width="1.0" stroke-dasharray="4 2.6"/>
<polyline points="676.2,37.3 682.3,52.3 664.5,67.3 676.8,82.3 681.9,97.3 695.9,112.3 673.2,127.3 706.4,142.3 668.8,157.3 630.0,172.3" fill="none" stroke="#0c0c0c" stroke-width="1.0" stroke-dasharray="4 2.6"/>
<polyline points="676.2,37.3 669.8,52.3 680.8,67.3 664.5,82.3 661.1,97.3 644.3,112.3 645.0,127.3 655.0,142.3 628.4,157.3 626.1,172.3 619.6,187.3 621.0,202.3" fill="none" stroke="#0c0c0c" stroke-width="1.0" stroke-dasharray="4 2.6"/>
<polyline points="716.1,37.3 688.3,52.3 704.4,67.3 720.5,82.3 712.0,97.3 663.1,112.3 677.2,127.3 658.5,142.3 683.3,157.3 663.7,172.3" fill="none" stroke="#0c0c0c" stroke-width="1.0"/>
<polyline points="607.5,37.3 604.0,52.3 604.0,67.3 606.5,82.3 602.4,97.3 600.4,112.3" fill="none" stroke="#0c0c0c" stroke-width="1.0"/>
<polyline points="592.0,37.3 594.0,52.3 589.0,67.3 582.9,82.3 584.7,97.3 584.3,112.3 572.7,127.3 552.5,142.3 588.4,157.3 555.7,172.3 558.1,187.3 568.0,202.3" fill="none" stroke="#0c0c0c" stroke-width="1.0"/>
<polyline points="603.4,37.3 611.1,52.3 606.5,67.3 602.0,82.3 592.4,97.3 581.3,112.3 574.7,127.3 597.4,142.3 570.1,157.3 583.8,172.3 586.2,187.3 606.0,202.3" fill="none" stroke="#0c0c0c" stroke-width="1.0"/>
<polyline points="614.1,37.3 628.0,52.3 611.5,67.3 622.6,82.3 612.9,97.3 605.5,112.3 594.4,127.3 595.4,142.3 628.3,157.3 606.6,172.3 601.4,187.3 601.4,202.3" fill="none" stroke="#0c0c0c" stroke-width="1.0"/>
<polyline points="633.6,37.3 594.8,52.3 619.9,67.3 622.6,82.3 637.6,97.3 628.0,112.3 645.1,127.3 654.3,142.3 654.2,157.3 655.7,172.3 624.0,187.3 609.0,202.3" fill="none" stroke="#0c0c0c" stroke-width="1.0"/>
<polyline points="673.2,37.3 698.4,52.3 686.7,67.3 701.4,82.3 686.7,97.3 684.7,112.3 682.7,127.3 706.4,142.3 677.2,157.3 675.8,172.3" fill="none" stroke="#0c0c0c" stroke-width="1.0"/>
<polygon points="726.5,34.5 729.3,37.3 726.5,40.1 723.7,37.3" fill="#fff" stroke="#000" stroke-width="1.05" stroke-linejoin="miter"/>
<polygon points="660.5,64.5 663.3,67.3 660.5,70.1 657.7,67.3" fill="#fff" stroke="#000" stroke-width="1.05" stroke-linejoin="miter"/>
<polygon points="645.0,79.5 647.8,82.3 645.0,85.1 642.2,82.3" fill="#fff" stroke="#000" stroke-width="1.05" stroke-linejoin="miter"/>
<polygon points="698.4,94.5 701.2,97.3 698.4,100.1 695.6,97.3" fill="#fff" stroke="#000" stroke-width="1.05" stroke-linejoin="miter"/>
<polygon points="648.0,109.5 650.8,112.3 648.0,115.1 645.2,112.3" fill="#fff" stroke="#000" stroke-width="1.05" stroke-linejoin="miter"/>
<polygon points="654.1,139.5 656.9,142.3 654.1,145.1 651.3,142.3" fill="#fff" stroke="#000" stroke-width="1.05" stroke-linejoin="miter"/>
<circle cx="676.2" cy="37.3" r="2.0" fill="#fff" stroke="#000" stroke-width="1.05"/>
<circle cx="682.3" cy="52.3" r="2.0" fill="#fff" stroke="#000" stroke-width="1.05"/>
<circle cx="664.5" cy="67.3" r="2.0" fill="#fff" stroke="#000" stroke-width="1.05"/>
<circle cx="676.8" cy="82.3" r="2.0" fill="#fff" stroke="#000" stroke-width="1.05"/>
<circle cx="681.9" cy="97.3" r="2.0" fill="#fff" stroke="#000" stroke-width="1.05"/>
<circle cx="695.9" cy="112.3" r="2.0" fill="#fff" stroke="#000" stroke-width="1.05"/>
<circle cx="673.2" cy="127.3" r="2.0" fill="#fff" stroke="#000" stroke-width="1.05"/>
<circle cx="668.8" cy="157.3" r="2.0" fill="#fff" stroke="#000" stroke-width="1.05"/>
<circle cx="630.0" cy="172.3" r="2.0" fill="#fff" stroke="#000" stroke-width="1.05"/>
<polygon points="679.0,37.3 674.1,34.7 674.1,39.9" fill="#fff" stroke="#000" stroke-width="1.05" stroke-linejoin="miter"/>
<polygon points="672.6,52.3 667.7,49.7 667.7,54.9" fill="#fff" stroke="#000" stroke-width="1.05" stroke-linejoin="miter"/>
<polygon points="683.6,67.3 678.7,64.7 678.7,69.9" fill="#fff" stroke="#000" stroke-width="1.05" stroke-linejoin="miter"/>
<polygon points="667.3,82.3 662.4,79.7 662.4,84.9" fill="#fff" stroke="#000" stroke-width="1.05" stroke-linejoin="miter"/>
<polygon points="663.9,97.3 659.0,94.7 659.0,99.9" fill="#fff" stroke="#000" stroke-width="1.05" stroke-linejoin="miter"/>
<polygon points="647.1,112.3 642.2,109.7 642.2,114.9" fill="#fff" stroke="#000" stroke-width="1.05" stroke-linejoin="miter"/>
<polygon points="647.8,127.3 642.9,124.7 642.9,129.9" fill="#fff" stroke="#000" stroke-width="1.05" stroke-linejoin="miter"/>
<polygon points="631.2,157.3 626.3,154.7 626.3,159.9" fill="#fff" stroke="#000" stroke-width="1.05" stroke-linejoin="miter"/>
<polygon points="628.9,172.3 624.0,169.7 624.0,174.9" fill="#fff" stroke="#000" stroke-width="1.05" stroke-linejoin="miter"/>
<polygon points="622.4,187.3 617.5,184.7 617.5,189.9" fill="#fff" stroke="#000" stroke-width="1.05" stroke-linejoin="miter"/>
<polygon points="623.8,202.3 618.9,199.7 618.9,204.9" fill="#fff" stroke="#000" stroke-width="1.05" stroke-linejoin="miter"/>
<polygon points="716.1,35.1 718.3,36.7 717.5,39.3 714.7,39.3 713.9,36.7" fill="#fff" stroke="#000" stroke-width="0.95" stroke-linejoin="round"/>
<polygon points="688.3,50.1 690.5,51.7 689.7,54.3 686.9,54.3 686.1,51.7" fill="#fff" stroke="#000" stroke-width="0.95" stroke-linejoin="round"/>
<polygon points="704.4,65.2 706.6,66.7 705.8,69.3 703.0,69.3 702.2,66.7" fill="#fff" stroke="#000" stroke-width="0.95" stroke-linejoin="round"/>
<polygon points="720.5,80.2 722.7,81.7 721.9,84.3 719.1,84.3 718.3,81.7" fill="#fff" stroke="#000" stroke-width="0.95" stroke-linejoin="round"/>
<polygon points="712.0,95.2 714.2,96.7 713.4,99.3 710.6,99.3 709.8,96.7" fill="#fff" stroke="#000" stroke-width="0.95" stroke-linejoin="round"/>
<polygon points="663.1,110.2 665.3,111.7 664.5,114.3 661.7,114.3 660.9,111.7" fill="#fff" stroke="#000" stroke-width="0.95" stroke-linejoin="round"/>
<polygon points="677.2,125.2 679.4,126.7 678.6,129.3 675.8,129.3 675.0,126.7" fill="#fff" stroke="#000" stroke-width="0.95" stroke-linejoin="round"/>
<polygon points="658.5,140.2 660.7,141.7 659.9,144.3 657.1,144.3 656.3,141.7" fill="#fff" stroke="#000" stroke-width="0.95" stroke-linejoin="round"/>
<polygon points="683.3,155.2 685.5,156.7 684.7,159.3 681.9,159.3 681.1,156.7" fill="#fff" stroke="#000" stroke-width="0.95" stroke-linejoin="round"/>
<polygon points="663.7,170.2 665.9,171.7 665.1,174.3 662.3,174.3 661.5,171.7" fill="#fff" stroke="#000" stroke-width="0.95" stroke-linejoin="round"/>
<rect x="605.3" y="35.1" width="4.4" height="4.4" fill="#000"/>
<rect x="601.8" y="50.1" width="4.4" height="4.4" fill="#000"/>
<rect x="601.8" y="65.1" width="4.4" height="4.4" fill="#000"/>
<rect x="604.3" y="80.1" width="4.4" height="4.4" fill="#000"/>
<rect x="600.2" y="95.1" width="4.4" height="4.4" fill="#000"/>
<rect x="598.2" y="110.1" width="4.4" height="4.4" fill="#000"/>
<circle cx="592.0" cy="37.3" r="2.55" fill="#000"/>
<circle cx="594.0" cy="52.3" r="2.55" fill="#000"/>
<circle cx="589.0" cy="67.3" r="2.55" fill="#000"/>
<circle cx="582.9" cy="82.3" r="2.55" fill="#000"/>
<circle cx="584.7" cy="97.3" r="2.55" fill="#000"/>
<circle cx="584.3" cy="112.3" r="2.55" fill="#000"/>
<circle cx="572.7" cy="127.3" r="2.55" fill="#000"/>
<circle cx="552.5" cy="142.3" r="2.55" fill="#000"/>
<circle cx="588.4" cy="157.3" r="2.55" fill="#000"/>
<circle cx="555.7" cy="172.3" r="2.55" fill="#000"/>
<circle cx="558.1" cy="187.3" r="2.55" fill="#000"/>
<circle cx="568.0" cy="202.3" r="2.55" fill="#000"/>
<polygon points="603.4,34.3 600.4,39.5 606.4,39.5" fill="#000"/>
<polygon points="611.1,49.3 608.1,54.5 614.1,54.5" fill="#000"/>
<polygon points="606.5,64.3 603.5,69.5 609.5,69.5" fill="#000"/>
<polygon points="602.0,79.3 599.0,84.5 605.0,84.5" fill="#000"/>
<polygon points="592.4,94.3 589.4,99.5 595.4,99.5" fill="#000"/>
<polygon points="581.3,109.3 578.3,114.5 584.3,114.5" fill="#000"/>
<polygon points="574.7,124.3 571.7,129.5 577.7,129.5" fill="#000"/>
<polygon points="597.4,139.3 594.4,144.5 600.4,144.5" fill="#000"/>
<polygon points="570.1,154.3 567.1,159.5 573.1,159.5" fill="#000"/>
<polygon points="583.8,169.3 580.8,174.5 586.8,174.5" fill="#000"/>
<polygon points="586.2,184.3 583.2,189.5 589.2,189.5" fill="#000"/>
<polygon points="606.0,199.3 603.0,204.5 609.0,204.5" fill="#000"/>
<polygon points="614.1,40.0 611.6,35.4 616.6,35.4" fill="#fff" stroke="#000" stroke-width="1.05" stroke-linejoin="miter"/>
<polygon points="628.0,55.0 625.5,50.4 630.5,50.4" fill="#fff" stroke="#000" stroke-width="1.05" stroke-linejoin="miter"/>
<polygon points="611.5,70.0 609.0,65.4 614.0,65.4" fill="#fff" stroke="#000" stroke-width="1.05" stroke-linejoin="miter"/>
<polygon points="612.9,100.0 610.4,95.4 615.4,95.4" fill="#fff" stroke="#000" stroke-width="1.05" stroke-linejoin="miter"/>
<polygon points="605.5,115.0 603.0,110.4 608.0,110.4" fill="#fff" stroke="#000" stroke-width="1.05" stroke-linejoin="miter"/>
<polygon points="594.4,130.0 591.9,125.4 596.9,125.4" fill="#fff" stroke="#000" stroke-width="1.05" stroke-linejoin="miter"/>
<polygon points="595.4,145.0 592.9,140.4 597.9,140.4" fill="#fff" stroke="#000" stroke-width="1.05" stroke-linejoin="miter"/>
<polygon points="606.6,175.0 604.1,170.4 609.1,170.4" fill="#fff" stroke="#000" stroke-width="1.05" stroke-linejoin="miter"/>
<polygon points="601.4,190.0 598.9,185.4 603.9,185.4" fill="#fff" stroke="#000" stroke-width="1.05" stroke-linejoin="miter"/>
<polygon points="601.4,205.0 598.9,200.4 603.9,200.4" fill="#fff" stroke="#000" stroke-width="1.05" stroke-linejoin="miter"/>
<polygon points="630.7,37.3 635.7,34.5 635.7,40.1" fill="#000"/>
<polygon points="591.9,52.3 596.9,49.5 596.9,55.1" fill="#000"/>
<polygon points="617.0,67.3 622.0,64.5 622.0,70.1" fill="#000"/>
<polygon points="619.7,82.3 624.7,79.5 624.7,85.1" fill="#000"/>
<polygon points="634.7,97.3 639.7,94.5 639.7,100.1" fill="#000"/>
<polygon points="625.1,112.3 630.1,109.5 630.1,115.1" fill="#000"/>
<polygon points="651.3,157.3 656.3,154.5 656.3,160.1" fill="#000"/>
<polygon points="652.8,172.3 657.8,169.5 657.8,175.1" fill="#000"/>
<polygon points="621.1,187.3 626.1,184.5 626.1,190.1" fill="#000"/>
<polygon points="606.1,202.3 611.1,199.5 611.1,205.1" fill="#000"/>
<polygon points="673.2,33.8 674.0,36.2 676.6,36.2 674.5,37.7 675.3,40.2 673.2,38.7 671.1,40.2 671.9,37.7 669.8,36.2 672.4,36.2" fill="#000"/>
<polygon points="698.4,48.8 699.2,51.2 701.8,51.2 699.7,52.7 700.5,55.2 698.4,53.7 696.3,55.2 697.1,52.7 695.0,51.2 697.6,51.2" fill="#000"/>
<polygon points="686.7,63.8 687.5,66.2 690.1,66.2 688.0,67.7 688.8,70.2 686.7,68.7 684.6,70.2 685.4,67.7 683.3,66.2 685.9,66.2" fill="#000"/>
<polygon points="701.4,78.8 702.2,81.2 704.8,81.2 702.7,82.7 703.5,85.2 701.4,83.7 699.3,85.2 700.1,82.7 698.0,81.2 700.6,81.2" fill="#000"/>
<polygon points="686.7,93.8 687.5,96.2 690.1,96.2 688.0,97.7 688.8,100.2 686.7,98.7 684.6,100.2 685.4,97.7 683.3,96.2 685.9,96.2" fill="#000"/>
<polygon points="684.7,108.8 685.5,111.2 688.1,111.2 686.0,112.7 686.8,115.2 684.7,113.7 682.6,115.2 683.4,112.7 681.3,111.2 683.9,111.2" fill="#000"/>
<polygon points="682.7,123.8 683.5,126.2 686.1,126.2 684.0,127.7 684.8,130.2 682.7,128.7 680.6,130.2 681.4,127.7 679.3,126.2 681.9,126.2" fill="#000"/>
<polygon points="706.4,138.8 707.2,141.2 709.8,141.2 707.7,142.7 708.5,145.2 706.4,143.7 704.3,145.2 705.1,142.7 703.0,141.2 705.6,141.2" fill="#000"/>
<polygon points="677.2,153.8 678.0,156.2 680.6,156.2 678.5,157.7 679.3,160.2 677.2,158.7 675.1,160.2 675.9,157.7 673.8,156.2 676.4,156.2" fill="#000"/>
<polygon points="675.8,168.8 676.6,171.2 679.2,171.2 677.1,172.7 677.9,175.2 675.8,173.7 673.7,175.2 674.5,172.7 672.4,171.2 675.0,171.2" fill="#000"/>
<path d="M532.3 29.7V209.5M532.3 29.8h2.3M532.3 44.8h2.3M532.3 59.8h2.3M532.3 74.8h2.3M532.3 89.8h2.3M532.3 104.8h2.3M532.3 119.8h2.3M532.3 134.8h2.3M532.3 149.8h2.3M532.3 164.8h2.3M532.3 179.8h2.3M532.3 194.8h2.3M532.3 209.8h2.3" stroke="#2e2e2e" stroke-width="0.95" fill="none"/>
<path d="M532.3 37.3h4.3M532.3 52.3h4.3M532.3 67.3h4.3M532.3 82.3h4.3M532.3 97.3h4.3M532.3 112.3h4.3M532.3 127.3h4.3M532.3 142.3h4.3M532.3 157.3h4.3M532.3 172.3h4.3M532.3 187.3h4.3M532.3 202.3h4.3" stroke="#000" stroke-width="1.35" fill="none"/>
<path d="M43.0 267.85H184.6V277.15H43.0" fill="#b8b8b8" stroke="#383838" stroke-width="0.9"/>
<path d="M43.0 282.85H180.2V292.15H43.0" fill="#b8b8b8" stroke="#383838" stroke-width="0.9"/>
<path d="M43.0 297.85H175.4V307.15H43.0" fill="#b8b8b8" stroke="#383838" stroke-width="0.9"/>
<path d="M43.0 312.85H170.5V322.15H43.0" fill="#b8b8b8" stroke="#383838" stroke-width="0.9"/>
<path d="M43.0 327.85H158.4V337.15H43.0" fill="#b8b8b8" stroke="#383838" stroke-width="0.9"/>
<path d="M43.0 342.85H138.6V352.15H43.0" fill="#b8b8b8" stroke="#383838" stroke-width="0.9"/>
<path d="M43.0 357.85H127.9V367.15H43.0" fill="#b8b8b8" stroke="#383838" stroke-width="0.9"/>
<path d="M43.0 372.85H123.5V382.15H43.0" fill="#b8b8b8" stroke="#383838" stroke-width="0.9"/>
<path d="M43.0 387.85H114.4V397.15H43.0" fill="#b8b8b8" stroke="#383838" stroke-width="0.9"/>
<path d="M43.0 402.85H109.4V412.15H43.0" fill="#b8b8b8" stroke="#383838" stroke-width="0.9"/>
<path d="M43.0 417.85H86.4V427.15H43.0" fill="#b8b8b8" stroke="#383838" stroke-width="0.9"/>
<path d="M43.0 432.85H75.0V442.15H43.0" fill="#b8b8b8" stroke="#383838" stroke-width="0.9"/>
<path d="M146.0 272.9H223.5M146.0 270.8V275.1M223.5 270.8V275.1" stroke="#0a0a0a" stroke-width="0.9" fill="none"/>
<path d="M142.6 287.9H217.5M142.6 285.8V290.1M217.5 285.8V290.1" stroke="#0a0a0a" stroke-width="0.9" fill="none"/>
<path d="M135.0 302.9H216.1M135.0 300.8V305.1M216.1 300.8V305.1" stroke="#0a0a0a" stroke-width="0.9" fill="none"/>
<path d="M129.0 317.9H212.4M129.0 315.8V320.1M212.4 315.8V320.1" stroke="#0a0a0a" stroke-width="0.9" fill="none"/>
<path d="M116.0 332.9H201.0M116.0 330.8V335.1M201.0 330.8V335.1" stroke="#0a0a0a" stroke-width="0.9" fill="none"/>
<path d="M92.3 347.9H184.0M92.3 345.8V350.1M184.0 345.8V350.1" stroke="#0a0a0a" stroke-width="0.9" fill="none"/>
<path d="M77.0 362.9H178.8M77.0 360.8V365.1M178.8 360.8V365.1" stroke="#0a0a0a" stroke-width="0.9" fill="none"/>
<path d="M74.2 377.9H174.4M74.2 375.8V380.1M174.4 375.8V380.1" stroke="#0a0a0a" stroke-width="0.9" fill="none"/>
<path d="M70.0 392.9H159.1M70.0 390.8V395.1M159.1 390.8V395.1" stroke="#0a0a0a" stroke-width="0.9" fill="none"/>
<path d="M70.2 407.9H149.0M70.2 405.8V410.1M149.0 405.8V410.1" stroke="#0a0a0a" stroke-width="0.9" fill="none"/>
<path d="M62.0 422.9H110.0M62.0 420.8V425.1M110.0 420.8V425.1" stroke="#0a0a0a" stroke-width="0.9" fill="none"/>
<path d="M54.4 437.9H95.6M54.4 435.8V440.1M95.6 435.8V440.1" stroke="#0a0a0a" stroke-width="0.9" fill="none"/>
<polyline points="269.2,272.9 259.7,287.9 250.7,302.9 252.1,317.9 241.2,332.9 231.1,347.9 215.5,362.9 208.8,377.9 200.0,392.9 151.0,407.9 110.0,422.9 85.0,437.9" fill="none" stroke="#0c0c0c" stroke-width="1.0"/>
<polyline points="223.5,272.9 217.5,287.9 221.1,302.9 202.4,317.9 184.5,332.9 160.0,347.9 95.3,362.9 83.3,377.9 101.4,392.9 80.2,407.9 78.0,422.9 77.0,437.9" fill="none" stroke="#0c0c0c" stroke-width="1.0" stroke-dasharray="4 2.6"/>
<polyline points="168.3,272.9 159.6,287.9 161.7,302.9 164.1,317.9 161.4,332.9 158.0,347.9 125.9,362.9 124.9,377.9 114.0,392.9 119.5,407.9" fill="none" stroke="#0c0c0c" stroke-width="1.0" stroke-dasharray="4 2.6"/>
<polyline points="183.1,272.9 182.8,287.9 182.1,302.9 173.5,317.9 161.4,332.9 158.0,347.9 125.9,362.9 124.9,377.9 114.0,392.9 119.5,407.9" fill="none" stroke="#0c0c0c" stroke-width="1.0" stroke-dasharray="4 2.6"/>
<polyline points="146.6,272.9 137.2,287.9 129.1,302.9 121.1,317.9 114.4,332.9 83.3,347.9" fill="none" stroke="#0c0c0c" stroke-width="1.0"/>
<polyline points="152.0,272.9 157.3,287.9 140.6,302.9 139.2,317.9 118.1,332.9 78.2,347.9 62.1,362.9 62.7,377.9 48.5,392.9 51.5,407.9 70.5,422.9 45.6,437.9" fill="none" stroke="#0c0c0c" stroke-width="1.0"/>
<polyline points="150.7,272.9 148.7,287.9 143.6,302.9 139.2,317.9 129.5,332.9 124.9,347.9 101.4,362.9 93.3,377.9 93.3,392.9 80.2,407.9 103.7,422.9 100.0,437.9" fill="none" stroke="#0c0c0c" stroke-width="1.0"/>
<polyline points="150.7,272.9 146.6,287.9 137.2,302.9 126.5,317.9 102.8,332.9 80.8,347.9 75.2,362.9 69.8,377.9 70.2,392.9 80.2,407.9 66.6,422.9 66.6,437.9" fill="none" stroke="#0c0c0c" stroke-width="1.0"/>
<polyline points="200.2,272.9 197.3,287.9 195.3,302.9 198.4,317.9 187.9,332.9 170.2,347.9 160.3,362.9 149.3,377.9 131.5,392.9 140.0,407.9" fill="none" stroke="#0c0c0c" stroke-width="1.0"/>
<polyline points="202.4,272.9 198.8,287.9 189.7,302.9 193.3,317.9 169.8,332.9 161.1,347.9 153.7,362.9 162.3,377.9 137.0,392.9 126.1,407.9" fill="none" stroke="#0c0c0c" stroke-width="1.0"/>
<polygon points="266.3,272.9 271.3,270.1 271.3,275.8" fill="#000"/>
<polygon points="256.8,287.9 261.8,285.1 261.8,290.8" fill="#000"/>
<polygon points="247.8,302.9 252.8,300.1 252.8,305.8" fill="#000"/>
<polygon points="249.2,317.9 254.2,315.1 254.2,320.8" fill="#000"/>
<polygon points="238.3,332.9 243.3,330.1 243.3,335.8" fill="#000"/>
<polygon points="228.2,347.9 233.2,345.1 233.2,350.8" fill="#000"/>
<polygon points="212.6,362.9 217.6,360.1 217.6,365.8" fill="#000"/>
<polygon points="205.9,377.9 210.9,375.1 210.9,380.8" fill="#000"/>
<polygon points="197.1,392.9 202.1,390.1 202.1,395.8" fill="#000"/>
<polygon points="148.1,407.9 153.1,405.1 153.1,410.8" fill="#000"/>
<polygon points="107.1,422.9 112.1,420.1 112.1,425.8" fill="#000"/>
<polygon points="82.1,437.9 87.1,435.1 87.1,440.8" fill="#000"/>
<polygon points="226.3,272.9 221.4,270.3 221.4,275.6" fill="#fff" stroke="#000" stroke-width="1.05" stroke-linejoin="miter"/>
<polygon points="220.3,287.9 215.4,285.3 215.4,290.6" fill="#fff" stroke="#000" stroke-width="1.05" stroke-linejoin="miter"/>
<polygon points="223.9,302.9 219.0,300.3 219.0,305.6" fill="#fff" stroke="#000" stroke-width="1.05" stroke-linejoin="miter"/>
<polygon points="205.2,317.9 200.3,315.3 200.3,320.6" fill="#fff" stroke="#000" stroke-width="1.05" stroke-linejoin="miter"/>
<polygon points="187.3,332.9 182.4,330.3 182.4,335.6" fill="#fff" stroke="#000" stroke-width="1.05" stroke-linejoin="miter"/>
<polygon points="98.1,362.9 93.2,360.3 93.2,365.6" fill="#fff" stroke="#000" stroke-width="1.05" stroke-linejoin="miter"/>
<polygon points="86.1,377.9 81.2,375.3 81.2,380.6" fill="#fff" stroke="#000" stroke-width="1.05" stroke-linejoin="miter"/>
<polygon points="104.2,392.9 99.3,390.3 99.3,395.6" fill="#fff" stroke="#000" stroke-width="1.05" stroke-linejoin="miter"/>
<polygon points="80.8,422.9 75.9,420.3 75.9,425.6" fill="#fff" stroke="#000" stroke-width="1.05" stroke-linejoin="miter"/>
<polygon points="79.8,437.9 74.9,435.3 74.9,440.6" fill="#fff" stroke="#000" stroke-width="1.05" stroke-linejoin="miter"/>
<polygon points="168.3,270.1 171.1,272.9 168.3,275.8 165.5,272.9" fill="#fff" stroke="#000" stroke-width="1.05" stroke-linejoin="miter"/>
<polygon points="159.6,285.1 162.4,287.9 159.6,290.8 156.8,287.9" fill="#fff" stroke="#000" stroke-width="1.05" stroke-linejoin="miter"/>
<polygon points="161.7,300.1 164.5,302.9 161.7,305.8 158.9,302.9" fill="#fff" stroke="#000" stroke-width="1.05" stroke-linejoin="miter"/>
<polygon points="164.1,315.1 166.9,317.9 164.1,320.8 161.3,317.9" fill="#fff" stroke="#000" stroke-width="1.05" stroke-linejoin="miter"/>
<polygon points="161.4,330.1 164.2,332.9 161.4,335.8 158.6,332.9" fill="#fff" stroke="#000" stroke-width="1.05" stroke-linejoin="miter"/>
<polygon points="125.9,360.1 128.7,362.9 125.9,365.8 123.1,362.9" fill="#fff" stroke="#000" stroke-width="1.05" stroke-linejoin="miter"/>
<polygon points="124.9,375.1 127.7,377.9 124.9,380.8 122.1,377.9" fill="#fff" stroke="#000" stroke-width="1.05" stroke-linejoin="miter"/>
<polygon points="114.0,390.1 116.8,392.9 114.0,395.8 111.2,392.9" fill="#fff" stroke="#000" stroke-width="1.05" stroke-linejoin="miter"/>
<polygon points="119.5,405.1 122.3,407.9 119.5,410.8 116.7,407.9" fill="#fff" stroke="#000" stroke-width="1.05" stroke-linejoin="miter"/>
<circle cx="183.1" cy="272.9" r="2.0" fill="#fff" stroke="#000" stroke-width="1.05"/>
<circle cx="182.8" cy="287.9" r="2.0" fill="#fff" stroke="#000" stroke-width="1.05"/>
<circle cx="182.1" cy="302.9" r="2.0" fill="#fff" stroke="#000" stroke-width="1.05"/>
<circle cx="173.5" cy="317.9" r="2.0" fill="#fff" stroke="#000" stroke-width="1.05"/>
<rect x="144.4" y="270.8" width="4.4" height="4.4" fill="#000"/>
<rect x="135.0" y="285.8" width="4.4" height="4.4" fill="#000"/>
<rect x="126.9" y="300.8" width="4.4" height="4.4" fill="#000"/>
<rect x="118.9" y="315.8" width="4.4" height="4.4" fill="#000"/>
<rect x="112.2" y="330.8" width="4.4" height="4.4" fill="#000"/>
<rect x="81.1" y="345.8" width="4.4" height="4.4" fill="#000"/>
<circle cx="157.3" cy="287.9" r="2.55" fill="#000"/>
<circle cx="140.6" cy="302.9" r="2.55" fill="#000"/>
<circle cx="139.2" cy="317.9" r="2.55" fill="#000"/>
<circle cx="118.1" cy="332.9" r="2.55" fill="#000"/>
<circle cx="78.2" cy="347.9" r="2.55" fill="#000"/>
<circle cx="62.1" cy="362.9" r="2.55" fill="#000"/>
<circle cx="62.7" cy="377.9" r="2.55" fill="#000"/>
<circle cx="48.5" cy="392.9" r="2.55" fill="#000"/>
<circle cx="51.5" cy="407.9" r="2.55" fill="#000"/>
<circle cx="70.5" cy="422.9" r="2.55" fill="#000"/>
<circle cx="45.6" cy="437.9" r="2.55" fill="#000"/>
<polygon points="150.7,269.9 147.7,275.1 153.7,275.1" fill="#000"/>
<polygon points="148.7,284.9 145.7,290.1 151.7,290.1" fill="#000"/>
<polygon points="143.6,299.9 140.6,305.1 146.6,305.1" fill="#000"/>
<polygon points="139.2,314.9 136.2,320.1 142.2,320.1" fill="#000"/>
<polygon points="129.5,329.9 126.5,335.1 132.5,335.1" fill="#000"/>
<polygon points="124.9,344.9 121.9,350.1 127.9,350.1" fill="#000"/>
<polygon points="101.4,359.9 98.4,365.1 104.4,365.1" fill="#000"/>
<polygon points="93.3,374.9 90.3,380.1 96.3,380.1" fill="#000"/>
<polygon points="93.3,389.9 90.3,395.1 96.3,395.1" fill="#000"/>
<polygon points="103.7,419.9 100.7,425.1 106.7,425.1" fill="#000"/>
<polygon points="100.0,434.9 97.0,440.1 103.0,440.1" fill="#000"/>
<polygon points="150.7,275.6 148.2,271.0 153.2,271.0" fill="#fff" stroke="#000" stroke-width="1.05" stroke-linejoin="miter"/>
<polygon points="146.6,290.6 144.1,286.0 149.1,286.0" fill="#fff" stroke="#000" stroke-width="1.05" stroke-linejoin="miter"/>
<polygon points="137.2,305.6 134.7,301.0 139.7,301.0" fill="#fff" stroke="#000" stroke-width="1.05" stroke-linejoin="miter"/>
<polygon points="126.5,320.6 124.0,316.0 129.0,316.0" fill="#fff" stroke="#000" stroke-width="1.05" stroke-linejoin="miter"/>
<polygon points="102.8,335.6 100.3,331.0 105.3,331.0" fill="#fff" stroke="#000" stroke-width="1.05" stroke-linejoin="miter"/>
<polygon points="80.8,350.6 78.3,346.0 83.3,346.0" fill="#fff" stroke="#000" stroke-width="1.05" stroke-linejoin="miter"/>
<polygon points="75.2,365.6 72.7,361.0 77.7,361.0" fill="#fff" stroke="#000" stroke-width="1.05" stroke-linejoin="miter"/>
<polygon points="69.8,380.6 67.3,376.0 72.3,376.0" fill="#fff" stroke="#000" stroke-width="1.05" stroke-linejoin="miter"/>
<polygon points="70.2,395.6 67.7,391.0 72.7,391.0" fill="#fff" stroke="#000" stroke-width="1.05" stroke-linejoin="miter"/>
<polygon points="80.2,410.6 77.7,406.0 82.7,406.0" fill="#fff" stroke="#000" stroke-width="1.05" stroke-linejoin="miter"/>
<polygon points="66.6,425.6 64.1,421.0 69.1,421.0" fill="#fff" stroke="#000" stroke-width="1.05" stroke-linejoin="miter"/>
<polygon points="66.6,440.6 64.1,436.0 69.1,436.0" fill="#fff" stroke="#000" stroke-width="1.05" stroke-linejoin="miter"/>
<polygon points="200.2,270.8 202.4,272.4 201.6,275.0 198.8,275.0 198.0,272.4" fill="#fff" stroke="#000" stroke-width="0.95" stroke-linejoin="round"/>
<polygon points="197.3,285.8 199.5,287.4 198.7,290.0 195.9,290.0 195.1,287.4" fill="#fff" stroke="#000" stroke-width="0.95" stroke-linejoin="round"/>
<polygon points="195.3,300.8 197.5,302.4 196.7,305.0 193.9,305.0 193.1,302.4" fill="#fff" stroke="#000" stroke-width="0.95" stroke-linejoin="round"/>
<polygon points="198.4,315.8 200.6,317.4 199.8,320.0 197.0,320.0 196.2,317.4" fill="#fff" stroke="#000" stroke-width="0.95" stroke-linejoin="round"/>
<polygon points="187.9,330.8 190.1,332.4 189.3,335.0 186.5,335.0 185.7,332.4" fill="#fff" stroke="#000" stroke-width="0.95" stroke-linejoin="round"/>
<polygon points="170.2,345.8 172.4,347.4 171.6,350.0 168.8,350.0 168.0,347.4" fill="#fff" stroke="#000" stroke-width="0.95" stroke-linejoin="round"/>
<polygon points="160.3,360.8 162.5,362.4 161.7,365.0 158.9,365.0 158.1,362.4" fill="#fff" stroke="#000" stroke-width="0.95" stroke-linejoin="round"/>
<polygon points="149.3,375.8 151.5,377.4 150.7,380.0 147.9,380.0 147.1,377.4" fill="#fff" stroke="#000" stroke-width="0.95" stroke-linejoin="round"/>
<polygon points="131.5,390.8 133.7,392.4 132.9,395.0 130.1,395.0 129.3,392.4" fill="#fff" stroke="#000" stroke-width="0.95" stroke-linejoin="round"/>
<polygon points="140.0,405.8 142.2,407.4 141.4,410.0 138.6,410.0 137.8,407.4" fill="#fff" stroke="#000" stroke-width="0.95" stroke-linejoin="round"/>
<polygon points="202.4,269.4 203.2,271.8 205.8,271.9 203.7,273.4 204.5,275.8 202.4,274.3 200.3,275.8 201.1,273.4 199.0,271.9 201.6,271.8" fill="#000"/>
<polygon points="198.8,284.4 199.6,286.8 202.2,286.9 200.1,288.4 200.9,290.8 198.8,289.3 196.7,290.8 197.5,288.4 195.4,286.9 198.0,286.8" fill="#000"/>
<polygon points="189.7,299.4 190.5,301.8 193.1,301.9 191.0,303.4 191.8,305.8 189.7,304.3 187.6,305.8 188.4,303.4 186.3,301.9 188.9,301.8" fill="#000"/>
<polygon points="193.3,314.4 194.1,316.8 196.7,316.9 194.6,318.4 195.4,320.8 193.3,319.3 191.2,320.8 192.0,318.4 189.9,316.9 192.5,316.8" fill="#000"/>
<polygon points="169.8,329.4 170.6,331.8 173.2,331.9 171.1,333.4 171.9,335.8 169.8,334.3 167.7,335.8 168.5,333.4 166.4,331.9 169.0,331.8" fill="#000"/>
<polygon points="161.1,344.4 161.9,346.8 164.5,346.9 162.4,348.4 163.2,350.8 161.1,349.3 159.0,350.8 159.8,348.4 157.7,346.9 160.3,346.8" fill="#000"/>
<polygon points="153.7,359.4 154.5,361.8 157.1,361.9 155.0,363.4 155.8,365.8 153.7,364.3 151.6,365.8 152.4,363.4 150.3,361.9 152.9,361.8" fill="#000"/>
<polygon points="162.3,374.4 163.1,376.8 165.7,376.9 163.6,378.4 164.4,380.8 162.3,379.3 160.2,380.8 161.0,378.4 158.9,376.9 161.5,376.8" fill="#000"/>
<polygon points="137.0,389.4 137.8,391.8 140.4,391.9 138.3,393.4 139.1,395.8 137.0,394.3 134.9,395.8 135.7,393.4 133.6,391.9 136.2,391.8" fill="#000"/>
<polygon points="126.1,404.4 126.9,406.8 129.5,406.9 127.4,408.4 128.2,410.8 126.1,409.3 124.0,410.8 124.8,408.4 122.7,406.9 125.3,406.8" fill="#000"/>
<path d="M43.0 265.2V445.2M43.0 265.4h2.3M43.0 280.4h2.3M43.0 295.4h2.3M43.0 310.4h2.3M43.0 325.4h2.3M43.0 340.4h2.3M43.0 355.4h2.3M43.0 370.4h2.3M43.0 385.4h2.3M43.0 400.4h2.3M43.0 415.4h2.3M43.0 430.4h2.3M43.0 445.4h2.3" stroke="#2e2e2e" stroke-width="0.95" fill="none"/>
<path d="M43.0 272.9h4.3M43.0 287.9h4.3M43.0 302.9h4.3M43.0 317.9h4.3M43.0 332.9h4.3M43.0 347.9h4.3M43.0 362.9h4.3M43.0 377.9h4.3M43.0 392.9h4.3M43.0 407.9h4.3M43.0 422.9h4.3M43.0 437.9h4.3" stroke="#000" stroke-width="1.35" fill="none"/>
<circle cx="162.3" cy="377.9" r="2.7" fill="#000"/>
<path d="M287.3 267.85H429.6V277.15H287.3" fill="#b8b8b8" stroke="#383838" stroke-width="0.9"/>
<path d="M287.3 282.85H424.5V292.15H287.3" fill="#b8b8b8" stroke="#383838" stroke-width="0.9"/>
<path d="M287.3 297.85H418.5V307.15H287.3" fill="#b8b8b8" stroke="#383838" stroke-width="0.9"/>
<path d="M287.3 312.85H413.3V322.15H287.3" fill="#b8b8b8" stroke="#383838" stroke-width="0.9"/>
<path d="M287.3 327.85H404.6V337.15H287.3" fill="#b8b8b8" stroke="#383838" stroke-width="0.9"/>
<path d="M287.3 342.85H391.1V352.15H287.3" fill="#b8b8b8" stroke="#383838" stroke-width="0.9"/>
<path d="M287.3 357.85H378.2V367.15H287.3" fill="#b8b8b8" stroke="#383838" stroke-width="0.9"/>
<path d="M287.3 372.85H376.5V382.15H287.3" fill="#b8b8b8" stroke="#383838" stroke-width="0.9"/>
<path d="M287.3 387.85H366.5V397.15H287.3" fill="#b8b8b8" stroke="#383838" stroke-width="0.9"/>
<path d="M287.3 402.85H362.1V412.15H287.3" fill="#b8b8b8" stroke="#383838" stroke-width="0.9"/>
<path d="M287.3 417.85H364.5V427.15H287.3" fill="#b8b8b8" stroke="#383838" stroke-width="0.9"/>
<path d="M287.3 432.85H356.6V442.15H287.3" fill="#b8b8b8" stroke="#383838" stroke-width="0.9"/>
<path d="M374.9 272.9H484.0M374.9 270.8V275.1M484.0 270.8V275.1" stroke="#0a0a0a" stroke-width="0.9" fill="none"/>
<path d="M367.5 287.9H481.6M367.5 285.8V290.1M481.6 285.8V290.1" stroke="#0a0a0a" stroke-width="0.9" fill="none"/>
<path d="M362.5 302.9H474.5M362.5 300.8V305.1M474.5 300.8V305.1" stroke="#0a0a0a" stroke-width="0.9" fill="none"/>
<path d="M357.4 317.9H469.1M357.4 315.8V320.1M469.1 315.8V320.1" stroke="#0a0a0a" stroke-width="0.9" fill="none"/>
<path d="M351.4 332.9H457.0M351.4 330.8V335.1M457.0 330.8V335.1" stroke="#0a0a0a" stroke-width="0.9" fill="none"/>
<path d="M344.0 347.9H439.4M344.0 345.8V350.1M439.4 345.8V350.1" stroke="#0a0a0a" stroke-width="0.9" fill="none"/>
<path d="M331.0 362.9H425.8M331.0 360.8V365.1M425.8 360.8V365.1" stroke="#0a0a0a" stroke-width="0.9" fill="none"/>
<path d="M335.0 377.9H417.8M335.0 375.8V380.1M417.8 375.8V380.1" stroke="#0a0a0a" stroke-width="0.9" fill="none"/>
<path d="M325.2 392.9H408.3M325.2 390.8V395.1M408.3 390.8V395.1" stroke="#0a0a0a" stroke-width="0.9" fill="none"/>
<path d="M314.8 407.9H409.7M314.8 405.8V410.1M409.7 405.8V410.1" stroke="#0a0a0a" stroke-width="0.9" fill="none"/>
<path d="M322.0 422.9H406.6M322.0 420.8V425.1M406.6 420.8V425.1" stroke="#0a0a0a" stroke-width="0.9" fill="none"/>
<path d="M312.0 437.9H401.0M312.0 435.8V440.1M401.0 435.8V440.1" stroke="#0a0a0a" stroke-width="0.9" fill="none"/>
<polyline points="528.3,272.9 528.3,287.9 521.2,302.9 515.2,317.9 499.3,332.9 469.1,347.9 469.5,362.9 435.1,377.9 425.8,392.9 413.3,407.9" fill="none" stroke="#0c0c0c" stroke-width="1.0"/>
<polyline points="510.2,272.9 500.7,287.9 491.2,302.9 486.6,317.9 474.9,332.9 464.9,347.9 431.3,362.9 439.4,377.9 439.4,392.9 458.8,407.9 420.3,422.9 428.0,437.9" fill="none" stroke="#0c0c0c" stroke-width="1.0"/>
<polyline points="431.1,272.9 428.3,287.9 423.3,302.9 430.3,317.9 420.0,332.9 420.2,347.9 410.2,362.9 404.7,377.9 386.6,392.9 379.2,407.9 394.3,422.9 369.0,437.9" fill="none" stroke="#0c0c0c" stroke-width="1.0" stroke-dasharray="4 2.6"/>
<polyline points="362.5,272.9 359.4,287.9 357.8,302.9 351.4,317.9 347.0,332.9 331.3,347.9 332.9,362.9 334.0,377.9 321.2,392.9 330.0,407.9" fill="none" stroke="#0c0c0c" stroke-width="1.0" stroke-dasharray="4 2.6"/>
<polyline points="366.1,272.9 350.0,287.9 338.7,302.9 334.3,317.9 326.2,332.9 321.6,347.9" fill="none" stroke="#0c0c0c" stroke-width="1.0"/>
<polyline points="398.4,272.9 385.0,287.9 390.6,302.9 385.6,317.9 377.0,332.9 374.1,347.9 347.4,362.9 351.0,377.9 352.0,392.9 326.6,407.9 321.0,422.9 321.0,437.9" fill="none" stroke="#0c0c0c" stroke-width="1.0"/>
<polyline points="405.6,272.9 410.0,287.9 393.0,302.9 388.0,317.9 380.6,332.9 354.0,347.9 343.4,362.9 369.5,377.9 332.7,392.9 325.0,407.9 331.6,422.9" fill="none" stroke="#0c0c0c" stroke-width="1.0"/>
<polyline points="410.2,272.9 405.9,287.9 393.7,302.9 389.5,317.9 383.0,332.9 378.6,347.9 336.9,362.9 344.4,377.9 340.7,392.9 345.4,407.9" fill="none" stroke="#0c0c0c" stroke-width="1.0"/>
<polyline points="434.9,272.9 430.0,287.9 430.8,302.9 420.8,317.9 409.6,332.9 398.4,347.9 371.9,362.9 375.9,377.9 357.4,392.9 355.4,407.9 356.0,422.9 344.6,437.9" fill="none" stroke="#0c0c0c" stroke-width="1.0"/>
<polyline points="444.5,272.9 441.4,287.9 438.0,302.9 426.5,317.9 420.8,332.9 385.0,347.9 362.5,362.9 369.0,377.9 345.4,392.9 340.0,407.9" fill="none" stroke="#0c0c0c" stroke-width="1.0"/>
<polygon points="528.3,270.8 530.5,272.4 529.7,275.0 526.9,275.0 526.1,272.4" fill="#fff" stroke="#000" stroke-width="0.95" stroke-linejoin="round"/>
<polygon points="528.3,285.8 530.5,287.4 529.7,290.0 526.9,290.0 526.1,287.4" fill="#fff" stroke="#000" stroke-width="0.95" stroke-linejoin="round"/>
<polygon points="521.2,300.8 523.4,302.4 522.6,305.0 519.8,305.0 519.0,302.4" fill="#fff" stroke="#000" stroke-width="0.95" stroke-linejoin="round"/>
<polygon points="515.2,315.8 517.4,317.4 516.6,320.0 513.8,320.0 513.0,317.4" fill="#fff" stroke="#000" stroke-width="0.95" stroke-linejoin="round"/>
<polygon points="499.3,330.8 501.5,332.4 500.7,335.0 497.9,335.0 497.1,332.4" fill="#fff" stroke="#000" stroke-width="0.95" stroke-linejoin="round"/>
<polygon points="469.1,345.8 471.3,347.4 470.5,350.0 467.7,350.0 466.9,347.4" fill="#fff" stroke="#000" stroke-width="0.95" stroke-linejoin="round"/>
<polygon points="469.5,360.8 471.7,362.4 470.9,365.0 468.1,365.0 467.3,362.4" fill="#fff" stroke="#000" stroke-width="0.95" stroke-linejoin="round"/>
<polygon points="435.1,375.8 437.3,377.4 436.5,380.0 433.7,380.0 432.9,377.4" fill="#fff" stroke="#000" stroke-width="0.95" stroke-linejoin="round"/>
<polygon points="425.8,390.8 428.0,392.4 427.2,395.0 424.4,395.0 423.6,392.4" fill="#fff" stroke="#000" stroke-width="0.95" stroke-linejoin="round"/>
<polygon points="413.3,405.8 415.5,407.4 414.7,410.0 411.9,410.0 411.1,407.4" fill="#fff" stroke="#000" stroke-width="0.95" stroke-linejoin="round"/>
<circle cx="510.2" cy="272.9" r="2.55" fill="#000"/>
<circle cx="500.7" cy="287.9" r="2.55" fill="#000"/>
<circle cx="491.2" cy="302.9" r="2.55" fill="#000"/>
<circle cx="486.6" cy="317.9" r="2.55" fill="#000"/>
<circle cx="474.9" cy="332.9" r="2.55" fill="#000"/>
<circle cx="464.9" cy="347.9" r="2.55" fill="#000"/>
<circle cx="431.3" cy="362.9" r="2.55" fill="#000"/>
<circle cx="439.4" cy="377.9" r="2.55" fill="#000"/>
<circle cx="439.4" cy="392.9" r="2.55" fill="#000"/>
<circle cx="458.8" cy="407.9" r="2.55" fill="#000"/>
<circle cx="420.3" cy="422.9" r="2.55" fill="#000"/>
<circle cx="428.0" cy="437.9" r="2.55" fill="#000"/>
<polygon points="433.9,272.9 429.0,270.3 429.0,275.6" fill="#fff" stroke="#000" stroke-width="1.05" stroke-linejoin="miter"/>
<polygon points="431.1,287.9 426.2,285.3 426.2,290.6" fill="#fff" stroke="#000" stroke-width="1.05" stroke-linejoin="miter"/>
<polygon points="426.1,302.9 421.2,300.3 421.2,305.6" fill="#fff" stroke="#000" stroke-width="1.05" stroke-linejoin="miter"/>
<polygon points="433.1,317.9 428.2,315.3 428.2,320.6" fill="#fff" stroke="#000" stroke-width="1.05" stroke-linejoin="miter"/>
<polygon points="423.0,347.9 418.1,345.3 418.1,350.6" fill="#fff" stroke="#000" stroke-width="1.05" stroke-linejoin="miter"/>
<polygon points="413.0,362.9 408.1,360.3 408.1,365.6" fill="#fff" stroke="#000" stroke-width="1.05" stroke-linejoin="miter"/>
<polygon points="407.5,377.9 402.6,375.3 402.6,380.6" fill="#fff" stroke="#000" stroke-width="1.05" stroke-linejoin="miter"/>
<polygon points="389.4,392.9 384.5,390.3 384.5,395.6" fill="#fff" stroke="#000" stroke-width="1.05" stroke-linejoin="miter"/>
<polygon points="382.0,407.9 377.1,405.3 377.1,410.6" fill="#fff" stroke="#000" stroke-width="1.05" stroke-linejoin="miter"/>
<polygon points="397.1,422.9 392.2,420.3 392.2,425.6" fill="#fff" stroke="#000" stroke-width="1.05" stroke-linejoin="miter"/>
<polygon points="371.8,437.9 366.9,435.3 366.9,440.6" fill="#fff" stroke="#000" stroke-width="1.05" stroke-linejoin="miter"/>
<circle cx="362.5" cy="272.9" r="2.0" fill="#fff" stroke="#000" stroke-width="1.05"/>
<circle cx="359.4" cy="287.9" r="2.0" fill="#fff" stroke="#000" stroke-width="1.05"/>
<circle cx="357.8" cy="302.9" r="2.0" fill="#fff" stroke="#000" stroke-width="1.05"/>
<circle cx="351.4" cy="317.9" r="2.0" fill="#fff" stroke="#000" stroke-width="1.05"/>
<circle cx="347.0" cy="332.9" r="2.0" fill="#fff" stroke="#000" stroke-width="1.05"/>
<circle cx="331.3" cy="347.9" r="2.0" fill="#fff" stroke="#000" stroke-width="1.05"/>
<circle cx="332.9" cy="362.9" r="2.0" fill="#fff" stroke="#000" stroke-width="1.05"/>
<circle cx="321.2" cy="392.9" r="2.0" fill="#fff" stroke="#000" stroke-width="1.05"/>
<rect x="363.9" y="270.8" width="4.4" height="4.4" fill="#000"/>
<rect x="347.8" y="285.8" width="4.4" height="4.4" fill="#000"/>
<rect x="336.5" y="300.8" width="4.4" height="4.4" fill="#000"/>
<rect x="332.1" y="315.8" width="4.4" height="4.4" fill="#000"/>
<rect x="324.0" y="330.8" width="4.4" height="4.4" fill="#000"/>
<rect x="319.4" y="345.8" width="4.4" height="4.4" fill="#000"/>
<polygon points="398.4,275.6 395.9,271.0 400.9,271.0" fill="#fff" stroke="#000" stroke-width="1.05" stroke-linejoin="miter"/>
<polygon points="385.0,290.6 382.5,286.0 387.5,286.0" fill="#fff" stroke="#000" stroke-width="1.05" stroke-linejoin="miter"/>
<polygon points="390.6,305.6 388.1,301.0 393.1,301.0" fill="#fff" stroke="#000" stroke-width="1.05" stroke-linejoin="miter"/>
<polygon points="385.6,320.6 383.1,316.0 388.1,316.0" fill="#fff" stroke="#000" stroke-width="1.05" stroke-linejoin="miter"/>
<polygon points="377.0,335.6 374.5,331.0 379.5,331.0" fill="#fff" stroke="#000" stroke-width="1.05" stroke-linejoin="miter"/>
<polygon points="374.1,350.6 371.6,346.0 376.6,346.0" fill="#fff" stroke="#000" stroke-width="1.05" stroke-linejoin="miter"/>
<polygon points="347.4,365.6 344.9,361.0 349.9,361.0" fill="#fff" stroke="#000" stroke-width="1.05" stroke-linejoin="miter"/>
<polygon points="351.0,380.6 348.5,376.0 353.5,376.0" fill="#fff" stroke="#000" stroke-width="1.05" stroke-linejoin="miter"/>
<polygon points="352.0,395.6 349.5,391.0 354.5,391.0" fill="#fff" stroke="#000" stroke-width="1.05" stroke-linejoin="miter"/>
<polygon points="326.6,410.6 324.1,406.0 329.1,406.0" fill="#fff" stroke="#000" stroke-width="1.05" stroke-linejoin="miter"/>
<polygon points="321.0,425.6 318.5,421.0 323.5,421.0" fill="#fff" stroke="#000" stroke-width="1.05" stroke-linejoin="miter"/>
<polygon points="321.0,440.6 318.5,436.0 323.5,436.0" fill="#fff" stroke="#000" stroke-width="1.05" stroke-linejoin="miter"/>
<polygon points="405.6,269.9 402.6,275.1 408.6,275.1" fill="#000"/>
<polygon points="410.0,284.9 407.0,290.1 413.0,290.1" fill="#000"/>
<polygon points="380.6,329.9 377.6,335.1 383.6,335.1" fill="#000"/>
<polygon points="354.0,344.9 351.0,350.1 357.0,350.1" fill="#000"/>
<polygon points="343.4,359.9 340.4,365.1 346.4,365.1" fill="#000"/>
<polygon points="369.5,374.9 366.5,380.1 372.5,380.1" fill="#000"/>
<polygon points="332.7,389.9 329.7,395.1 335.7,395.1" fill="#000"/>
<polygon points="331.6,419.9 328.6,425.1 334.6,425.1" fill="#000"/>
<polygon points="410.2,270.8 412.4,272.4 411.6,275.0 408.8,275.0 408.0,272.4" fill="#fff" stroke="#000" stroke-width="0.95" stroke-linejoin="round"/>
<polygon points="405.9,285.8 408.1,287.4 407.3,290.0 404.5,290.0 403.7,287.4" fill="#fff" stroke="#000" stroke-width="0.95" stroke-linejoin="round"/>
<polygon points="393.7,300.8 395.9,302.4 395.1,305.0 392.3,305.0 391.5,302.4" fill="#fff" stroke="#000" stroke-width="0.95" stroke-linejoin="round"/>
<polygon points="389.5,315.8 391.7,317.4 390.9,320.0 388.1,320.0 387.3,317.4" fill="#fff" stroke="#000" stroke-width="0.95" stroke-linejoin="round"/>
<polygon points="383.0,330.8 385.2,332.4 384.4,335.0 381.6,335.0 380.8,332.4" fill="#fff" stroke="#000" stroke-width="0.95" stroke-linejoin="round"/>
<polygon points="378.6,345.8 380.8,347.4 380.0,350.0 377.2,350.0 376.4,347.4" fill="#fff" stroke="#000" stroke-width="0.95" stroke-linejoin="round"/>
<polygon points="336.9,360.8 339.1,362.4 338.3,365.0 335.5,365.0 334.7,362.4" fill="#fff" stroke="#000" stroke-width="0.95" stroke-linejoin="round"/>
<polygon points="344.4,375.8 346.6,377.4 345.8,380.0 343.0,380.0 342.2,377.4" fill="#fff" stroke="#000" stroke-width="0.95" stroke-linejoin="round"/>
<polygon points="340.7,390.8 342.9,392.4 342.1,395.0 339.3,395.0 338.5,392.4" fill="#fff" stroke="#000" stroke-width="0.95" stroke-linejoin="round"/>
<polygon points="345.4,405.8 347.6,407.4 346.8,410.0 344.0,410.0 343.2,407.4" fill="#fff" stroke="#000" stroke-width="0.95" stroke-linejoin="round"/>
<polygon points="432.0,272.9 437.0,270.1 437.0,275.8" fill="#000"/>
<polygon points="427.9,302.9 432.9,300.1 432.9,305.8" fill="#000"/>
<polygon points="417.9,317.9 422.9,315.1 422.9,320.8" fill="#000"/>
<polygon points="406.7,332.9 411.7,330.1 411.7,335.8" fill="#000"/>
<polygon points="395.5,347.9 400.5,345.1 400.5,350.8" fill="#000"/>
<polygon points="369.0,362.9 374.0,360.1 374.0,365.8" fill="#000"/>
<polygon points="373.0,377.9 378.0,375.1 378.0,380.8" fill="#000"/>
<polygon points="354.5,392.9 359.5,390.1 359.5,395.8" fill="#000"/>
<polygon points="352.5,407.9 357.5,405.1 357.5,410.8" fill="#000"/>
<polygon points="353.1,422.9 358.1,420.1 358.1,425.8" fill="#000"/>
<polygon points="341.7,437.9 346.7,435.1 346.7,440.8" fill="#000"/>
<polygon points="444.5,269.4 445.3,271.8 447.9,271.9 445.8,273.4 446.6,275.8 444.5,274.3 442.4,275.8 443.2,273.4 441.1,271.9 443.7,271.8" fill="#000"/>
<polygon points="441.4,284.4 442.2,286.8 444.8,286.9 442.7,288.4 443.5,290.8 441.4,289.3 439.3,290.8 440.1,288.4 438.0,286.9 440.6,286.8" fill="#000"/>
<polygon points="438.0,299.4 438.8,301.8 441.4,301.9 439.3,303.4 440.1,305.8 438.0,304.3 435.9,305.8 436.7,303.4 434.6,301.9 437.2,301.8" fill="#000"/>
<polygon points="426.5,314.4 427.3,316.8 429.9,316.9 427.8,318.4 428.6,320.8 426.5,319.3 424.4,320.8 425.2,318.4 423.1,316.9 425.7,316.8" fill="#000"/>
<polygon points="420.8,329.4 421.6,331.8 424.2,331.9 422.1,333.4 422.9,335.8 420.8,334.3 418.7,335.8 419.5,333.4 417.4,331.9 420.0,331.8" fill="#000"/>
<polygon points="385.0,344.4 385.8,346.8 388.4,346.9 386.3,348.4 387.1,350.8 385.0,349.3 382.9,350.8 383.7,348.4 381.6,346.9 384.2,346.8" fill="#000"/>
<polygon points="362.5,359.4 363.3,361.8 365.9,361.9 363.8,363.4 364.6,365.8 362.5,364.3 360.4,365.8 361.2,363.4 359.1,361.9 361.7,361.8" fill="#000"/>
<polygon points="345.4,389.4 346.2,391.8 348.8,391.9 346.7,393.4 347.5,395.8 345.4,394.3 343.3,395.8 344.1,393.4 342.0,391.9 344.6,391.8" fill="#000"/>
<path d="M287.3 265.2V445.2M287.3 265.4h2.3M287.3 280.4h2.3M287.3 295.4h2.3M287.3 310.4h2.3M287.3 325.4h2.3M287.3 340.4h2.3M287.3 355.4h2.3M287.3 370.4h2.3M287.3 385.4h2.3M287.3 400.4h2.3M287.3 415.4h2.3M287.3 430.4h2.3M287.3 445.4h2.3" stroke="#2e2e2e" stroke-width="0.95" fill="none"/>
<path d="M287.3 272.9h4.3M287.3 287.9h4.3M287.3 302.9h4.3M287.3 317.9h4.3M287.3 332.9h4.3M287.3 347.9h4.3M287.3 362.9h4.3M287.3 377.9h4.3M287.3 392.9h4.3M287.3 407.9h4.3M287.3 422.9h4.3M287.3 437.9h4.3" stroke="#000" stroke-width="1.35" fill="none"/>
<circle cx="333.9" cy="377.9" r="2.55" fill="#000"/>
<circle cx="323.2" cy="407.9" r="2.55" fill="#000"/>
<path d="M532.8 267.85H706.0V277.15H532.8" fill="#b8b8b8" stroke="#383838" stroke-width="0.9"/>
<path d="M532.8 282.85H700.4V292.15H532.8" fill="#b8b8b8" stroke="#383838" stroke-width="0.9"/>
<path d="M532.8 297.85H695.3V307.15H532.8" fill="#b8b8b8" stroke="#383838" stroke-width="0.9"/>
<path d="M532.8 312.85H685.5V322.15H532.8" fill="#b8b8b8" stroke="#383838" stroke-width="0.9"/>
<path d="M532.8 327.85H669.8V337.15H532.8" fill="#b8b8b8" stroke="#383838" stroke-width="0.9"/>
<path d="M532.8 342.85H653.4V352.15H532.8" fill="#b8b8b8" stroke="#383838" stroke-width="0.9"/>
<path d="M532.8 357.85H627.2V367.15H532.8" fill="#b8b8b8" stroke="#383838" stroke-width="0.9"/>
<path d="M532.8 372.85H634.6V382.15H532.8" fill="#b8b8b8" stroke="#383838" stroke-width="0.9"/>
<path d="M532.8 387.85H610.5V397.15H532.8" fill="#b8b8b8" stroke="#383838" stroke-width="0.9"/>
<path d="M532.8 402.85H613.0V412.15H532.8" fill="#b8b8b8" stroke="#383838" stroke-width="0.9"/>
<path d="M532.8 417.85H599.3V427.15H532.8" fill="#b8b8b8" stroke="#383838" stroke-width="0.9"/>
<path d="M532.8 432.85H591.1V442.15H532.8" fill="#b8b8b8" stroke="#383838" stroke-width="0.9"/>
<path d="M674.2 272.9H738.0M674.2 270.8V275.1M738.0 270.8V275.1" stroke="#0a0a0a" stroke-width="0.9" fill="none"/>
<path d="M673.0 287.9H727.5M673.0 285.8V290.1M727.5 285.8V290.1" stroke="#0a0a0a" stroke-width="0.9" fill="none"/>
<path d="M661.0 302.9H729.1M661.0 300.8V305.1M729.1 300.8V305.1" stroke="#0a0a0a" stroke-width="0.9" fill="none"/>
<path d="M651.8 317.9H720.5M651.8 315.8V320.1M720.5 315.8V320.1" stroke="#0a0a0a" stroke-width="0.9" fill="none"/>
<path d="M631.0 332.9H708.8M631.0 330.8V335.1M708.8 330.8V335.1" stroke="#0a0a0a" stroke-width="0.9" fill="none"/>
<path d="M605.5 347.9H702.0M605.5 345.8V350.1M702.0 345.8V350.1" stroke="#0a0a0a" stroke-width="0.9" fill="none"/>
<path d="M580.3 362.9H673.3M580.3 360.8V365.1M673.3 360.8V365.1" stroke="#0a0a0a" stroke-width="0.9" fill="none"/>
<path d="M613.0 377.9H656.3M613.0 375.8V380.1M656.3 375.8V380.1" stroke="#0a0a0a" stroke-width="0.9" fill="none"/>
<path d="M575.3 392.9H644.6M575.3 390.8V395.1M644.6 390.8V395.1" stroke="#0a0a0a" stroke-width="0.9" fill="none"/>
<path d="M581.9 407.9H644.5M581.9 405.8V410.1M644.5 405.8V410.1" stroke="#0a0a0a" stroke-width="0.9" fill="none"/>
<path d="M583.0 422.9H615.6M583.0 420.8V425.1M615.6 420.8V425.1" stroke="#0a0a0a" stroke-width="0.9" fill="none"/>
<path d="M578.0 437.9H604.0M578.0 435.8V440.1M604.0 435.8V440.1" stroke="#0a0a0a" stroke-width="0.9" fill="none"/>
<polyline points="753.1,272.9 744.2,287.9 756.1,302.9 743.2,317.9 742.6,332.9 694.5,347.9 660.7,362.9 650.0,377.9 630.0,392.9 620.0,407.9" fill="none" stroke="#0c0c0c" stroke-width="1.0" stroke-dasharray="4 2.6"/>
<polyline points="716.5,272.9 700.0,287.9 683.5,302.9 675.2,317.9 660.7,332.9 632.0,347.9 605.5,362.9 623.2,377.9 590.5,392.9 611.4,407.9 613.9,422.9 589.9,437.9" fill="none" stroke="#0c0c0c" stroke-width="1.0" stroke-dasharray="4 2.6"/>
<polyline points="704.4,272.9 695.7,287.9 690.3,302.9 680.2,317.9 665.0,332.9 659.7,347.9 646.2,362.9 639.7,377.9 625.4,392.9 624.2,407.9" fill="none" stroke="#0c0c0c" stroke-width="1.0" stroke-dasharray="4 2.6"/>
<polyline points="656.5,272.9 663.0,287.9 650.2,302.9 628.6,317.9 627.6,332.9 622.0,347.9 595.4,362.9 610.5,377.9 609.5,392.9 585.9,407.9 596.0,422.9 596.4,437.9" fill="none" stroke="#0c0c0c" stroke-width="1.0"/>
<polyline points="671.8,272.9 672.3,287.9 659.7,302.9 656.4,317.9 634.0,332.9 625.6,347.9 608.1,362.9 592.0,377.9 575.4,392.9 587.6,407.9 575.4,422.9 584.1,437.9" fill="none" stroke="#0c0c0c" stroke-width="1.0"/>
<polyline points="687.8,272.9 683.0,287.9 679.8,302.9 676.0,317.9 656.6,332.9 611.0,347.9" fill="none" stroke="#0c0c0c" stroke-width="1.0"/>
<polyline points="700.0,272.9 693.0,287.9 696.3,302.9 680.0,317.9 656.6,332.9 609.1,347.9 591.4,362.9 606.5,377.9 613.3,392.9 602.1,407.9 593.4,422.9 600.8,437.9" fill="none" stroke="#0c0c0c" stroke-width="1.0"/>
<polyline points="694.7,272.9 690.3,287.9 686.0,302.9 677.0,317.9 658.0,332.9 628.0,347.9 606.0,362.9 635.0,377.9 612.0,392.9 617.4,407.9 613.9,422.9 585.9,437.9" fill="none" stroke="#0c0c0c" stroke-width="1.0"/>
<polyline points="710.4,272.9 708.0,287.9 710.4,302.9 697.7,317.9 669.0,332.9 670.8,347.9 650.8,362.9 644.5,377.9 641.1,392.9 624.0,407.9" fill="none" stroke="#0c0c0c" stroke-width="1.0"/>
<polyline points="756.3,272.9 744.2,287.9 741.6,302.9 737.2,317.9 732.6,332.9 730.7,347.9 691.9,362.9 661.1,377.9 620.2,392.9 605.2,407.9" fill="none" stroke="#0c0c0c" stroke-width="1.0"/>
<polygon points="753.1,270.1 755.9,272.9 753.1,275.8 750.3,272.9" fill="#fff" stroke="#000" stroke-width="1.05" stroke-linejoin="miter"/>
<polygon points="744.2,285.1 747.0,287.9 744.2,290.8 741.4,287.9" fill="#fff" stroke="#000" stroke-width="1.05" stroke-linejoin="miter"/>
<polygon points="756.1,300.1 758.9,302.9 756.1,305.8 753.3,302.9" fill="#fff" stroke="#000" stroke-width="1.05" stroke-linejoin="miter"/>
<polygon points="743.2,315.1 746.0,317.9 743.2,320.8 740.4,317.9" fill="#fff" stroke="#000" stroke-width="1.05" stroke-linejoin="miter"/>
<polygon points="742.6,330.1 745.4,332.9 742.6,335.8 739.8,332.9" fill="#fff" stroke="#000" stroke-width="1.05" stroke-linejoin="miter"/>
<polygon points="694.5,345.1 697.3,347.9 694.5,350.8 691.7,347.9" fill="#fff" stroke="#000" stroke-width="1.05" stroke-linejoin="miter"/>
<polygon points="660.7,360.1 663.5,362.9 660.7,365.8 657.9,362.9" fill="#fff" stroke="#000" stroke-width="1.05" stroke-linejoin="miter"/>
<polygon points="719.3,272.9 714.4,270.3 714.4,275.6" fill="#fff" stroke="#000" stroke-width="1.05" stroke-linejoin="miter"/>
<polygon points="686.3,302.9 681.4,300.3 681.4,305.6" fill="#fff" stroke="#000" stroke-width="1.05" stroke-linejoin="miter"/>
<polygon points="678.0,317.9 673.1,315.3 673.1,320.6" fill="#fff" stroke="#000" stroke-width="1.05" stroke-linejoin="miter"/>
<polygon points="663.5,332.9 658.6,330.3 658.6,335.6" fill="#fff" stroke="#000" stroke-width="1.05" stroke-linejoin="miter"/>
<polygon points="634.8,347.9 629.9,345.3 629.9,350.6" fill="#fff" stroke="#000" stroke-width="1.05" stroke-linejoin="miter"/>
<polygon points="608.3,362.9 603.4,360.3 603.4,365.6" fill="#fff" stroke="#000" stroke-width="1.05" stroke-linejoin="miter"/>
<polygon points="626.0,377.9 621.1,375.3 621.1,380.6" fill="#fff" stroke="#000" stroke-width="1.05" stroke-linejoin="miter"/>
<polygon points="593.3,392.9 588.4,390.3 588.4,395.6" fill="#fff" stroke="#000" stroke-width="1.05" stroke-linejoin="miter"/>
<polygon points="614.2,407.9 609.3,405.3 609.3,410.6" fill="#fff" stroke="#000" stroke-width="1.05" stroke-linejoin="miter"/>
<polygon points="616.7,422.9 611.8,420.3 611.8,425.6" fill="#fff" stroke="#000" stroke-width="1.05" stroke-linejoin="miter"/>
<polygon points="592.7,437.9 587.8,435.3 587.8,440.6" fill="#fff" stroke="#000" stroke-width="1.05" stroke-linejoin="miter"/>
<circle cx="704.4" cy="272.9" r="2.0" fill="#fff" stroke="#000" stroke-width="1.05"/>
<circle cx="695.7" cy="287.9" r="2.0" fill="#fff" stroke="#000" stroke-width="1.05"/>
<circle cx="690.3" cy="302.9" r="2.0" fill="#fff" stroke="#000" stroke-width="1.05"/>
<circle cx="680.2" cy="317.9" r="2.0" fill="#fff" stroke="#000" stroke-width="1.05"/>
<circle cx="665.0" cy="332.9" r="2.0" fill="#fff" stroke="#000" stroke-width="1.05"/>
<circle cx="659.7" cy="347.9" r="2.0" fill="#fff" stroke="#000" stroke-width="1.05"/>
<circle cx="646.2" cy="362.9" r="2.0" fill="#fff" stroke="#000" stroke-width="1.05"/>
<circle cx="639.7" cy="377.9" r="2.0" fill="#fff" stroke="#000" stroke-width="1.05"/>
<circle cx="625.4" cy="392.9" r="2.0" fill="#fff" stroke="#000" stroke-width="1.05"/>
<circle cx="624.2" cy="407.9" r="2.0" fill="#fff" stroke="#000" stroke-width="1.05"/>
<polygon points="656.5,275.6 654.0,271.0 659.0,271.0" fill="#fff" stroke="#000" stroke-width="1.05" stroke-linejoin="miter"/>
<polygon points="663.0,290.6 660.5,286.0 665.5,286.0" fill="#fff" stroke="#000" stroke-width="1.05" stroke-linejoin="miter"/>
<polygon points="650.2,305.6 647.7,301.0 652.7,301.0" fill="#fff" stroke="#000" stroke-width="1.05" stroke-linejoin="miter"/>
<polygon points="628.6,320.6 626.1,316.0 631.1,316.0" fill="#fff" stroke="#000" stroke-width="1.05" stroke-linejoin="miter"/>
<polygon points="627.6,335.6 625.1,331.0 630.1,331.0" fill="#fff" stroke="#000" stroke-width="1.05" stroke-linejoin="miter"/>
<polygon points="622.0,350.6 619.5,346.0 624.5,346.0" fill="#fff" stroke="#000" stroke-width="1.05" stroke-linejoin="miter"/>
<polygon points="595.4,365.6 592.9,361.0 597.9,361.0" fill="#fff" stroke="#000" stroke-width="1.05" stroke-linejoin="miter"/>
<polygon points="610.5,380.6 608.0,376.0 613.0,376.0" fill="#fff" stroke="#000" stroke-width="1.05" stroke-linejoin="miter"/>
<polygon points="609.5,395.6 607.0,391.0 612.0,391.0" fill="#fff" stroke="#000" stroke-width="1.05" stroke-linejoin="miter"/>
<polygon points="585.9,410.6 583.4,406.0 588.4,406.0" fill="#fff" stroke="#000" stroke-width="1.05" stroke-linejoin="miter"/>
<polygon points="596.0,425.6 593.5,421.0 598.5,421.0" fill="#fff" stroke="#000" stroke-width="1.05" stroke-linejoin="miter"/>
<polygon points="596.4,440.6 593.9,436.0 598.9,436.0" fill="#fff" stroke="#000" stroke-width="1.05" stroke-linejoin="miter"/>
<polygon points="671.8,269.9 668.8,275.1 674.8,275.1" fill="#000"/>
<polygon points="672.3,284.9 669.3,290.1 675.3,290.1" fill="#000"/>
<polygon points="659.7,299.9 656.7,305.1 662.7,305.1" fill="#000"/>
<polygon points="656.4,314.9 653.4,320.1 659.4,320.1" fill="#000"/>
<polygon points="634.0,329.9 631.0,335.1 637.0,335.1" fill="#000"/>
<polygon points="625.6,344.9 622.6,350.1 628.6,350.1" fill="#000"/>
<polygon points="608.1,359.9 605.1,365.1 611.1,365.1" fill="#000"/>
<polygon points="575.4,389.9 572.4,395.1 578.4,395.1" fill="#000"/>
<polygon points="587.6,404.9 584.6,410.1 590.6,410.1" fill="#000"/>
<polygon points="575.4,419.9 572.4,425.1 578.4,425.1" fill="#000"/>
<polygon points="584.1,434.9 581.1,440.1 587.1,440.1" fill="#000"/>
<rect x="685.6" y="270.8" width="4.4" height="4.4" fill="#000"/>
<rect x="680.8" y="285.8" width="4.4" height="4.4" fill="#000"/>
<rect x="677.6" y="300.8" width="4.4" height="4.4" fill="#000"/>
<rect x="654.4" y="330.8" width="4.4" height="4.4" fill="#000"/>
<circle cx="696.3" cy="302.9" r="2.55" fill="#000"/>
<circle cx="656.6" cy="332.9" r="2.55" fill="#000"/>
<circle cx="609.1" cy="347.9" r="2.55" fill="#000"/>
<circle cx="591.4" cy="362.9" r="2.55" fill="#000"/>
<circle cx="606.5" cy="377.9" r="2.55" fill="#000"/>
<circle cx="613.3" cy="392.9" r="2.55" fill="#000"/>
<circle cx="602.1" cy="407.9" r="2.55" fill="#000"/>
<circle cx="593.4" cy="422.9" r="2.55" fill="#000"/>
<circle cx="600.8" cy="437.9" r="2.55" fill="#000"/>
<polygon points="691.8,272.9 696.8,270.1 696.8,275.8" fill="#000"/>
<polygon points="687.4,287.9 692.4,285.1 692.4,290.8" fill="#000"/>
<polygon points="632.1,377.9 637.1,375.1 637.1,380.8" fill="#000"/>
<polygon points="614.5,407.9 619.5,405.1 619.5,410.8" fill="#000"/>
<polygon points="611.0,422.9 616.0,420.1 616.0,425.8" fill="#000"/>
<polygon points="583.0,437.9 588.0,435.1 588.0,440.8" fill="#000"/>
<polygon points="710.4,270.8 712.6,272.4 711.8,275.0 709.0,275.0 708.2,272.4" fill="#fff" stroke="#000" stroke-width="0.95" stroke-linejoin="round"/>
<polygon points="708.0,285.8 710.2,287.4 709.4,290.0 706.6,290.0 705.8,287.4" fill="#fff" stroke="#000" stroke-width="0.95" stroke-linejoin="round"/>
<polygon points="710.4,300.8 712.6,302.4 711.8,305.0 709.0,305.0 708.2,302.4" fill="#fff" stroke="#000" stroke-width="0.95" stroke-linejoin="round"/>
<polygon points="697.7,315.8 699.9,317.4 699.1,320.0 696.3,320.0 695.5,317.4" fill="#fff" stroke="#000" stroke-width="0.95" stroke-linejoin="round"/>
<polygon points="669.0,330.8 671.2,332.4 670.4,335.0 667.6,335.0 666.8,332.4" fill="#fff" stroke="#000" stroke-width="0.95" stroke-linejoin="round"/>
<polygon points="670.8,345.8 673.0,347.4 672.2,350.0 669.4,350.0 668.6,347.4" fill="#fff" stroke="#000" stroke-width="0.95" stroke-linejoin="round"/>
<polygon points="650.8,360.8 653.0,362.4 652.2,365.0 649.4,365.0 648.6,362.4" fill="#fff" stroke="#000" stroke-width="0.95" stroke-linejoin="round"/>
<polygon points="644.5,375.8 646.7,377.4 645.9,380.0 643.1,380.0 642.3,377.4" fill="#fff" stroke="#000" stroke-width="0.95" stroke-linejoin="round"/>
<polygon points="641.1,390.8 643.3,392.4 642.5,395.0 639.7,395.0 638.9,392.4" fill="#fff" stroke="#000" stroke-width="0.95" stroke-linejoin="round"/>
<polygon points="756.3,269.4 757.1,271.8 759.7,271.9 757.6,273.4 758.4,275.8 756.3,274.3 754.2,275.8 755.0,273.4 752.9,271.9 755.5,271.8" fill="#000"/>
<polygon points="744.2,284.4 745.0,286.8 747.6,286.9 745.5,288.4 746.3,290.8 744.2,289.3 742.1,290.8 742.9,288.4 740.8,286.9 743.4,286.8" fill="#000"/>
<polygon points="741.6,299.4 742.4,301.8 745.0,301.9 742.9,303.4 743.7,305.8 741.6,304.3 739.5,305.8 740.3,303.4 738.2,301.9 740.8,301.8" fill="#000"/>
<polygon points="737.2,314.4 738.0,316.8 740.6,316.9 738.5,318.4 739.3,320.8 737.2,319.3 735.1,320.8 735.9,318.4 733.8,316.9 736.4,316.8" fill="#000"/>
<polygon points="732.6,329.4 733.4,331.8 736.0,331.9 733.9,333.4 734.7,335.8 732.6,334.3 730.5,335.8 731.3,333.4 729.2,331.9 731.8,331.8" fill="#000"/>
<polygon points="730.7,344.4 731.5,346.8 734.1,346.9 732.0,348.4 732.8,350.8 730.7,349.3 728.6,350.8 729.4,348.4 727.3,346.9 729.9,346.8" fill="#000"/>
<polygon points="691.9,359.4 692.7,361.8 695.3,361.9 693.2,363.4 694.0,365.8 691.9,364.3 689.8,365.8 690.6,363.4 688.5,361.9 691.1,361.8" fill="#000"/>
<polygon points="661.1,374.4 661.9,376.8 664.5,376.9 662.4,378.4 663.2,380.8 661.1,379.3 659.0,380.8 659.8,378.4 657.7,376.9 660.3,376.8" fill="#000"/>
<polygon points="620.2,389.4 621.0,391.8 623.6,391.9 621.5,393.4 622.3,395.8 620.2,394.3 618.1,395.8 618.9,393.4 616.8,391.9 619.4,391.8" fill="#000"/>
<polygon points="605.2,404.4 606.0,406.8 608.6,406.9 606.5,408.4 607.3,410.8 605.2,409.3 603.1,410.8 603.9,408.4 601.8,406.9 604.4,406.8" fill="#000"/>
<path d="M532.8 265.2V445.2M532.8 265.4h2.3M532.8 280.4h2.3M532.8 295.4h2.3M532.8 310.4h2.3M532.8 325.4h2.3M532.8 340.4h2.3M532.8 355.4h2.3M532.8 370.4h2.3M532.8 385.4h2.3M532.8 400.4h2.3M532.8 415.4h2.3M532.8 430.4h2.3M532.8 445.4h2.3" stroke="#2e2e2e" stroke-width="0.95" fill="none"/>
<path d="M532.8 272.9h4.3M532.8 287.9h4.3M532.8 302.9h4.3M532.8 317.9h4.3M532.8 332.9h4.3M532.8 347.9h4.3M532.8 362.9h4.3M532.8 377.9h4.3M532.8 392.9h4.3M532.8 407.9h4.3M532.8 422.9h4.3M532.8 437.9h4.3" stroke="#000" stroke-width="1.35" fill="none"/>
<path d="M43.0 29.6H776.6" stroke="#222" stroke-width="1.15" fill="none"/>
<path d="M43.3 29.6v4.1M51.4 29.6v2.9M59.6 29.6v4.1M67.8 29.6v2.9M75.9 29.6v4.1M84.0 29.6v2.9M92.2 29.6v4.1M100.3 29.6v2.9M108.5 29.6v4.1M116.7 29.6v2.9M124.8 29.6v4.1M132.9 29.6v2.9M141.1 29.6v4.1M149.2 29.6v2.9M157.4 29.6v4.1M165.6 29.6v2.9M173.7 29.6v4.1M181.9 29.6v2.9M190.0 29.6v4.1M198.1 29.6v2.9M206.3 29.6v4.1M214.4 29.6v2.9M222.6 29.6v4.1M230.8 29.6v2.9M238.9 29.6v4.1M247.1 29.6v2.9M255.2 29.6v4.1M263.4 29.6v2.9M271.5 29.6v4.1M279.7 29.6v2.9M288.1 29.6v4.1M300.3 29.6v2.9M312.5 29.6v4.1M324.8 29.6v2.9M337.0 29.6v4.1M349.2 29.6v2.9M361.4 29.6v4.1M373.6 29.6v2.9M385.9 29.6v4.1M398.1 29.6v2.9M410.3 29.6v4.1M422.5 29.6v2.9M434.7 29.6v4.1M447.0 29.6v2.9M459.2 29.6v4.1M471.4 29.6v2.9M483.6 29.6v4.1M495.8 29.6v2.9M508.1 29.6v4.1M520.3 29.6v2.9M532.1 29.6v4.1M554.3 29.6v4.1M576.5 29.6v2.9M598.8 29.6v4.1M621.0 29.6v2.9M643.2 29.6v4.1M665.4 29.6v2.9M687.7 29.6v4.1M709.9 29.6v2.9M732.1 29.6v4.1M754.4 29.6v2.9M776.6 29.6v4.1" stroke="#000" stroke-width="1.1" fill="none"/>
<path d="M43.0 265.4H777.2" stroke="#222" stroke-width="1.15" fill="none"/>
<path d="M43.3 265.4v4.1M59.6 265.4v2.9M75.9 265.4v4.1M92.2 265.4v2.9M108.5 265.4v4.1M124.8 265.4v2.9M141.1 265.4v4.1M157.4 265.4v2.9M173.7 265.4v4.1M190.0 265.4v2.9M206.3 265.4v4.1M222.6 265.4v2.9M238.9 265.4v4.1M255.2 265.4v2.9M271.5 265.4v4.1M287.6 265.4v4.1M311.9 265.4v2.9M336.1 265.4v4.1M360.4 265.4v2.9M384.6 265.4v4.1M408.9 265.4v2.9M433.1 265.4v4.1M457.4 265.4v2.9M481.6 265.4v4.1M505.9 265.4v2.9M533.0 265.4v4.1M551.8 265.4v2.9M570.6 265.4v4.1M589.3 265.4v2.9M608.1 265.4v4.1M626.9 265.4v2.9M645.7 265.4v4.1M664.5 265.4v2.9M683.2 265.4v4.1M702.0 265.4v2.9M720.8 265.4v4.1M739.6 265.4v2.9M758.4 265.4v4.1M777.1 265.4v2.9" stroke="#000" stroke-width="1.1" fill="none"/>
<text transform="translate(43.2,25.8) scale(1,1.11)" font-size="11.3" text-anchor="middle" >0</text>
<text transform="translate(55.8,25.8) scale(1,1.11)" font-size="11.3" text-anchor="middle" >0.5</text>
<text transform="translate(73.7,25.8) scale(1,1.11)" font-size="11.3" text-anchor="middle" >1.0</text>
<text transform="translate(90.8,25.8) scale(1,1.11)" font-size="11.3" text-anchor="middle" >1.5</text>
<text transform="translate(106.6,25.8) scale(1,1.11)" font-size="11.3" text-anchor="middle" >2.0</text>
<text transform="translate(123.8,25.8) scale(1,1.11)" font-size="11.3" text-anchor="middle" >2.5</text>
<text transform="translate(141.3,25.8) scale(1,1.11)" font-size="11.3" text-anchor="middle" >3.0</text>
<text transform="translate(158.8,25.8) scale(1,1.11)" font-size="11.3" text-anchor="middle" >3.5</text>
<text transform="translate(176.3,25.8) scale(1,1.11)" font-size="11.3" text-anchor="middle" >4.0</text>
<text transform="translate(192.5,25.8) scale(1,1.11)" font-size="11.3" text-anchor="middle" >4.5</text>
<text transform="translate(209.4,25.8) scale(1,1.11)" font-size="11.3" text-anchor="middle" >5.0</text>
<text transform="translate(224.0,25.8) scale(1,1.11)" font-size="11.3" text-anchor="middle" >5.</text>
<text transform="translate(238.3,25.8) scale(1,1.11)" font-size="11.3" text-anchor="middle" >6.0</text>
<text transform="translate(255.0,25.8) scale(1,1.11)" font-size="11.3" text-anchor="middle" >6.5</text>
<text transform="translate(273.1,25.8) scale(1,1.11)" font-size="11.3" text-anchor="middle" >7.0</text>
<text transform="translate(291.0,25.8) scale(1,1.11)" font-size="11.3" text-anchor="middle" >420</text>
<text transform="translate(313.8,25.8) scale(1,1.11)" font-size="11.3" text-anchor="middle" >440</text>
<text transform="translate(336.9,25.8) scale(1,1.11)" font-size="11.3" text-anchor="middle" >460</text>
<text transform="translate(361.9,25.8) scale(1,1.11)" font-size="11.3" text-anchor="middle" >480</text>
<text transform="translate(386.0,25.8) scale(1,1.11)" font-size="11.3" text-anchor="middle" >500</text>
<text transform="translate(411.0,25.8) scale(1,1.11)" font-size="11.3" text-anchor="middle" >520</text>
<text transform="translate(434.4,25.8) scale(1,1.11)" font-size="11.3" text-anchor="middle" >540</text>
<text transform="translate(459.4,25.8) scale(1,1.11)" font-size="11.3" text-anchor="middle" >560</text>
<text transform="translate(485.0,25.8) scale(1,1.11)" font-size="11.3" text-anchor="middle" >580</text>
<text transform="translate(508.2,25.8) scale(1,1.11)" font-size="11.3" text-anchor="middle" >600</text>
<text transform="translate(533.6,25.8) scale(1,1.11)" font-size="11.3" text-anchor="middle" >620</text>
<text transform="translate(556.4,25.8) scale(1,1.11)" font-size="11.3" text-anchor="middle" >200</text>
<text transform="translate(602.0,25.8) scale(1,1.11)" font-size="11.3" text-anchor="middle" >300</text>
<text transform="translate(645.4,25.8) scale(1,1.11)" font-size="11.3" text-anchor="middle" >400</text>
<text transform="translate(687.6,25.8) scale(1,1.11)" font-size="11.3" text-anchor="middle" >500</text>
<text transform="translate(731.3,25.8) scale(1,1.11)" font-size="11.3" text-anchor="middle" >600</text>
<text transform="translate(770.7,25.8) scale(1,1.11)" font-size="11.3" text-anchor="middle" >700</text>
<text transform="translate(43.9,261.4) scale(1,1.11)" font-size="11.3" text-anchor="middle" >100</text>
<text transform="translate(77.5,261.4) scale(1,1.11)" font-size="11.3" text-anchor="middle" >200</text>
<text transform="translate(111.3,261.4) scale(1,1.11)" font-size="11.3" text-anchor="middle" >300</text>
<text transform="translate(143.7,261.4) scale(1,1.11)" font-size="11.3" text-anchor="middle" >400</text>
<text transform="translate(172.2,261.4) scale(1,1.11)" font-size="11.3" text-anchor="middle" >500</text>
<text transform="translate(203.3,261.4) scale(1,1.11)" font-size="11.3" text-anchor="middle" >600</text>
<text transform="translate(237.5,261.4) scale(1,1.11)" font-size="11.3" text-anchor="middle" >700</text>
<text transform="translate(270.8,261.4) scale(1,1.11)" font-size="11.3" text-anchor="middle" >800</text>
<text transform="translate(285.6,261.4) scale(1,1.11)" font-size="11.3" text-anchor="middle" >0</text>
<text transform="translate(336.4,261.4) scale(1,1.11)" font-size="11.3" text-anchor="middle" >1.5</text>
<text transform="translate(386.3,261.4) scale(1,1.11)" font-size="11.3" text-anchor="middle" >3.0</text>
<text transform="translate(433.0,261.4) scale(1,1.11)" font-size="11.3" text-anchor="middle" >4.5</text>
<text transform="translate(481.2,261.4) scale(1,1.11)" font-size="11.3" text-anchor="middle" >6.0</text>
<text transform="translate(532.4,261.4) scale(1,1.11)" font-size="11.3" text-anchor="middle" >0.2</text>
<text transform="translate(569.7,261.4) scale(1,1.11)" font-size="11.3" text-anchor="middle" >0.4</text>
<text transform="translate(610.0,261.4) scale(1,1.11)" font-size="11.3" text-anchor="middle" >0.6</text>
<text transform="translate(647.8,261.4) scale(1,1.11)" font-size="11.3" text-anchor="middle" >0.8</text>
<text transform="translate(684.3,261.4) scale(1,1.11)" font-size="11.3" text-anchor="middle" >1.0</text>
<text transform="translate(721.8,261.4) scale(1,1.11)" font-size="11.3" text-anchor="middle" >1.2</text>
<text transform="translate(759.0,261.4) scale(1,1.11)" font-size="11.3" text-anchor="middle" >1.4</text>
<text transform="translate(167.6,8.9) scale(1,1.1)" font-size="11.45" text-anchor="middle" >TOC/(g·kg<tspan dy="-4.2" font-size="7.6">−1</tspan><tspan dy="4.2">)</tspan></text>
<text transform="translate(410.5,8.9) scale(1,1.1)" font-size="11.45" text-anchor="middle" >TP/(mg·kg<tspan dy="-4.2" font-size="7.6">−1</tspan><tspan dy="4.2">)</tspan></text>
<text transform="translate(649.8,8.9) scale(1,1.1)" font-size="11.45" text-anchor="middle" >TS/(mg·kg<tspan dy="-4.2" font-size="7.6">−1</tspan><tspan dy="4.2">)</tspan></text>
<text transform="translate(156.6,246.9) scale(1,1.0)" font-size="11.45" text-anchor="middle" >TN/(mg·kg<tspan dy="-4.2" font-size="7.6">−1</tspan><tspan dy="4.2">)</tspan></text>
<text transform="translate(398.9,246.7) scale(1,1.0)" font-size="11.9" text-anchor="middle" >NH<tspan dy="3" dx="-0.7" font-size="7.6">4</tspan><tspan dy="-8.2" dx="-3.8" font-size="7.6">+</tspan><tspan dy="5.2">-N/(mg·kg</tspan><tspan dy="-4.2" font-size="7.6">−1</tspan><tspan dy="4.2">)</tspan></text>
<text transform="translate(648.7,245.4) scale(1,1.0)" font-size="11.5" text-anchor="middle" >NO<tspan dy="3" font-size="7.6">3</tspan><tspan dy="-8.2" dx="-3.8" font-size="7.6">−</tspan><tspan dy="5.2">-N/(mg·kg</tspan><tspan dy="-4.2" font-size="7.6">−1</tspan><tspan dy="4.2">)</tspan></text>
<text transform="translate(252.6,138.0) scale(1,1.0)" font-size="12" text-anchor="middle" >a</text>
<text transform="translate(490.3,137.5) scale(1,1.0)" font-size="12" text-anchor="middle" >b</text>
<text transform="translate(252.7,393.8) scale(1,1.0)" font-size="12" text-anchor="middle" >d</text>
<text transform="translate(490.6,393.8) scale(1,1.0)" font-size="12" text-anchor="middle" >e</text>
<text transform="translate(765.8,393.8) scale(1,1.0)" font-size="12" text-anchor="middle" >f</text>
<text transform="translate(765.9,137.2) scale(1,1.0)" font-size="11.4" text-anchor="middle" font-weight="bold">c</text>
<text transform="translate(39.4,40.8) scale(1,1.15)" font-size="11.2" text-anchor="end" >0~2</text>
<text transform="translate(39.4,55.8) scale(1,1.15)" font-size="11.2" text-anchor="end" >2~4</text>
<text transform="translate(39.4,70.8) scale(1,1.15)" font-size="11.2" text-anchor="end" >4~6</text>
<text transform="translate(39.4,85.8) scale(1,1.15)" font-size="11.2" text-anchor="end" >6~8</text>
<text transform="translate(39.4,100.8) scale(1,1.15)" font-size="11.2" text-anchor="end" >8~10</text>
<text transform="translate(39.4,115.8) scale(1,1.15)" font-size="11.2" text-anchor="end" >10~20</text>
<text transform="translate(39.4,130.8) scale(1,1.15)" font-size="11.2" text-anchor="end" >20~30</text>
<text transform="translate(39.4,145.9) scale(1,1.15)" font-size="11.2" text-anchor="end" >30~40</text>
<text transform="translate(39.4,160.9) scale(1,1.15)" font-size="11.2" text-anchor="end" >40~50</text>
<text transform="translate(39.4,175.9) scale(1,1.15)" font-size="11.2" text-anchor="end" >50~60</text>
<text transform="translate(39.4,190.9) scale(1,1.15)" font-size="11.2" text-anchor="end" >60~70</text>
<text transform="translate(39.4,205.9) scale(1,1.15)" font-size="11.2" text-anchor="end" >70~80</text>
<text transform="translate(39.4,275.8) scale(1,1.15)" font-size="11.2" text-anchor="end" >0~2</text>
<text transform="translate(39.4,290.8) scale(1,1.15)" font-size="11.2" text-anchor="end" >2~4</text>
<text transform="translate(39.4,305.8) scale(1,1.15)" font-size="11.2" text-anchor="end" >4~6</text>
<text transform="translate(39.4,320.8) scale(1,1.15)" font-size="11.2" text-anchor="end" >6~8</text>
<text transform="translate(39.4,335.8) scale(1,1.15)" font-size="11.2" text-anchor="end" >8~10</text>
<text transform="translate(39.4,350.8) scale(1,1.15)" font-size="11.2" text-anchor="end" >10~20</text>
<text transform="translate(39.4,365.8) scale(1,1.15)" font-size="11.2" text-anchor="end" >20~30</text>
<text transform="translate(39.4,380.8) scale(1,1.15)" font-size="11.2" text-anchor="end" >30~40</text>
<text transform="translate(39.4,395.8) scale(1,1.15)" font-size="11.2" text-anchor="end" >40~50</text>
<text transform="translate(39.4,410.8) scale(1,1.15)" font-size="11.2" text-anchor="end" >50~60</text>
<text transform="translate(39.4,425.8) scale(1,1.15)" font-size="11.2" text-anchor="end" >60~70</text>
<text transform="translate(39.4,440.8) scale(1,1.15)" font-size="11.2" text-anchor="end" >70~80</text>
<text transform="translate(4.4,126) rotate(-90)" font-size="11.3" text-anchor="middle">Depth/cm</text>
<text transform="translate(4.4,365) rotate(-90)" font-size="11.3" text-anchor="middle">Depth/cm</text>
</svg>
</body></html>
